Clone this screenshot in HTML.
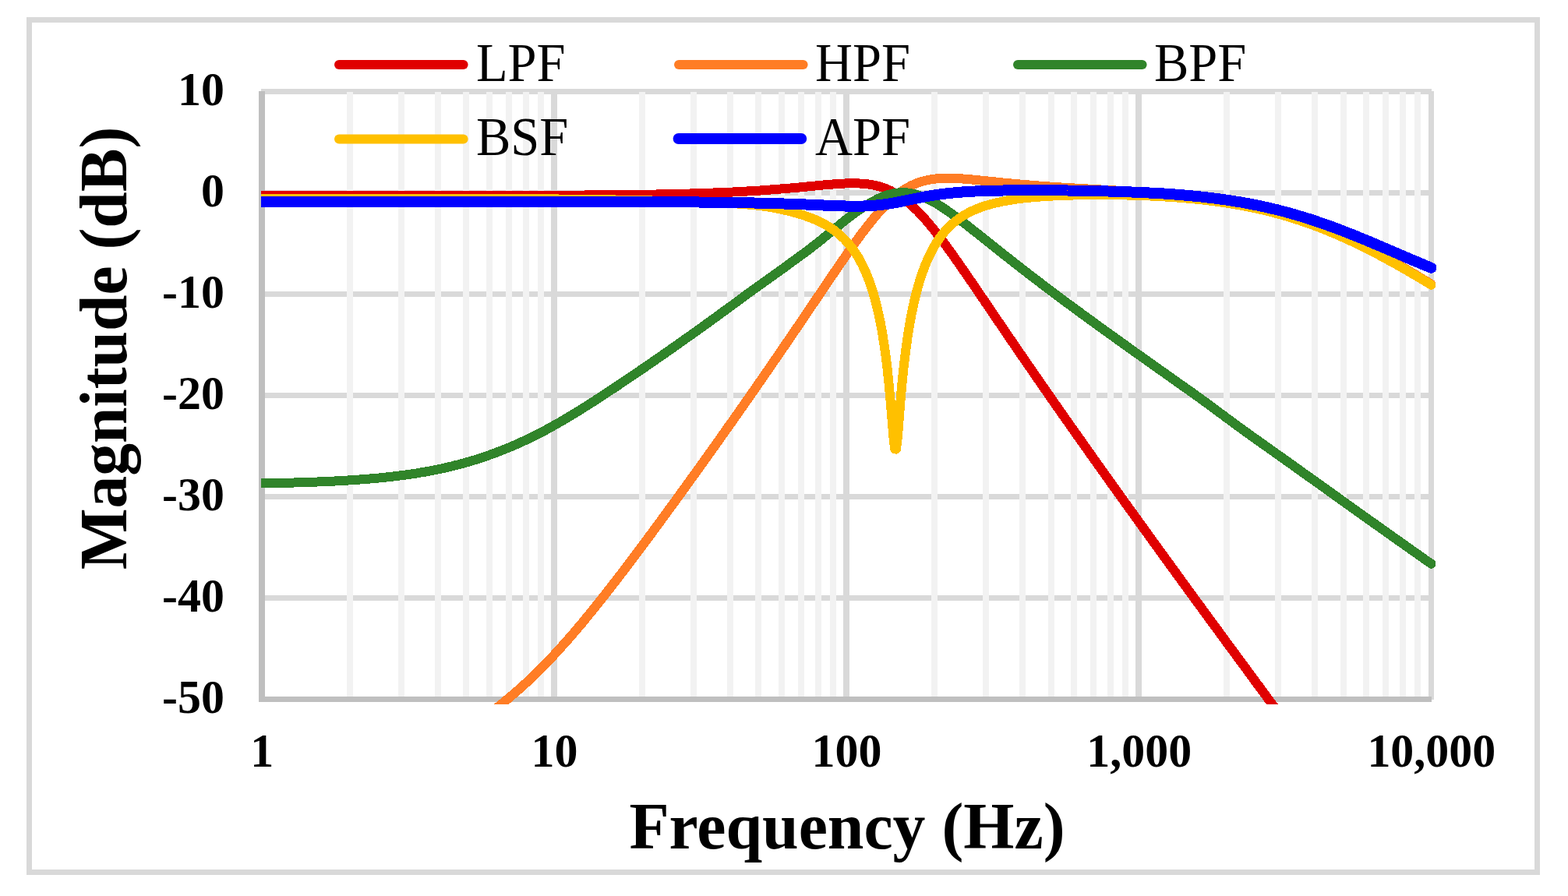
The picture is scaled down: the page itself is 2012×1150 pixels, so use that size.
<!DOCTYPE html>
<html lang="en"><head><meta charset="utf-8"><title>Filter magnitude response</title>
<style>
html,body{margin:0;padding:0;background:#fff;}
body{width:2012px;height:1150px;overflow:hidden;}
svg{display:block;}
text{font-family:"Liberation Serif",serif;fill:#000;}
.b{font-weight:bold;}
</style></head><body>
<svg width="2012" height="1150" viewBox="0 0 2012 1150">
<rect x="0" y="0" width="2012" height="1150" fill="#fff"/>
<rect x="37.5" y="25.5" width="1935" height="1094" fill="#fff" stroke="#D9D9D9" stroke-width="7" shape-rendering="crispEdges"/>
<g stroke="#D9D9D9" stroke-width="7" shape-rendering="crispEdges">
<line x1="335" y1="117.5" x2="1837" y2="117.5"/>
<line x1="335" y1="247.5" x2="1837" y2="247.5"/>
<line x1="335" y1="377.5" x2="1837" y2="377.5"/>
<line x1="335" y1="507.5" x2="1837" y2="507.5"/>
<line x1="335" y1="637.5" x2="1837" y2="637.5"/>
<line x1="335" y1="767.5" x2="1837" y2="767.5"/>
<line x1="711.1" y1="114" x2="711.1" y2="898" stroke-width="8"/>
<line x1="1086.2" y1="114" x2="1086.2" y2="898" stroke-width="8"/>
<line x1="1461.4" y1="114" x2="1461.4" y2="898" stroke-width="8"/>
<line x1="1836.5" y1="117" x2="1836.5" y2="898" stroke-width="7"/>
</g>
<g stroke="#F2F2F2" stroke-width="8" shape-rendering="crispEdges">
<line x1="448.9" y1="117.5" x2="448.9" y2="897.5"/>
<line x1="515.0" y1="117.5" x2="515.0" y2="897.5"/>
<line x1="561.8" y1="117.5" x2="561.8" y2="897.5"/>
<line x1="598.2" y1="117.5" x2="598.2" y2="897.5"/>
<line x1="627.9" y1="117.5" x2="627.9" y2="897.5"/>
<line x1="653.0" y1="117.5" x2="653.0" y2="897.5"/>
<line x1="674.8" y1="117.5" x2="674.8" y2="897.5"/>
<line x1="694.0" y1="117.5" x2="694.0" y2="897.5"/>
<line x1="824.0" y1="117.5" x2="824.0" y2="897.5"/>
<line x1="890.1" y1="117.5" x2="890.1" y2="897.5"/>
<line x1="937.0" y1="117.5" x2="937.0" y2="897.5"/>
<line x1="973.3" y1="117.5" x2="973.3" y2="897.5"/>
<line x1="1003.0" y1="117.5" x2="1003.0" y2="897.5"/>
<line x1="1028.1" y1="117.5" x2="1028.1" y2="897.5"/>
<line x1="1049.9" y1="117.5" x2="1049.9" y2="897.5"/>
<line x1="1069.1" y1="117.5" x2="1069.1" y2="897.5"/>
<line x1="1199.2" y1="117.5" x2="1199.2" y2="897.5"/>
<line x1="1265.2" y1="117.5" x2="1265.2" y2="897.5"/>
<line x1="1312.1" y1="117.5" x2="1312.1" y2="897.5"/>
<line x1="1348.5" y1="117.5" x2="1348.5" y2="897.5"/>
<line x1="1378.2" y1="117.5" x2="1378.2" y2="897.5"/>
<line x1="1403.3" y1="117.5" x2="1403.3" y2="897.5"/>
<line x1="1425.0" y1="117.5" x2="1425.0" y2="897.5"/>
<line x1="1444.2" y1="117.5" x2="1444.2" y2="897.5"/>
<line x1="1574.3" y1="117.5" x2="1574.3" y2="897.5"/>
<line x1="1640.4" y1="117.5" x2="1640.4" y2="897.5"/>
<line x1="1687.2" y1="117.5" x2="1687.2" y2="897.5"/>
<line x1="1723.6" y1="117.5" x2="1723.6" y2="897.5"/>
<line x1="1753.3" y1="117.5" x2="1753.3" y2="897.5"/>
<line x1="1778.4" y1="117.5" x2="1778.4" y2="897.5"/>
<line x1="1800.1" y1="117.5" x2="1800.1" y2="897.5"/>
<line x1="1819.3" y1="117.5" x2="1819.3" y2="897.5"/>
</g>
<g stroke="#BFBFBF" shape-rendering="crispEdges">
<line x1="336" y1="117" x2="336" y2="901" stroke-width="8"/>
<line x1="332" y1="897.5" x2="1837" y2="897.5" stroke-width="7"/>
</g>
<defs><clipPath id="c"><rect x="335" y="111" width="1520" height="793"/></clipPath></defs>
<g fill="none" stroke-linecap="round" stroke-linejoin="round" clip-path="url(#c)" shape-rendering="crispEdges">
<path stroke="#E00000" stroke-width="12" d="M336.0,251.0 L337.9,251.0 L339.8,251.0 L341.6,251.0 L343.5,251.0 L345.4,251.0 L347.3,251.0 L349.1,251.0 L351.0,251.0 L352.9,251.0 L354.8,251.0 L356.6,251.0 L358.5,251.0 L360.4,251.0 L362.3,251.0 L364.1,251.0 L366.0,251.0 L367.9,251.0 L369.8,251.0 L371.6,251.0 L373.5,251.0 L375.4,251.0 L377.3,251.0 L379.1,251.0 L381.0,251.0 L382.9,251.0 L384.8,251.0 L386.6,251.0 L388.5,251.0 L390.4,251.0 L392.3,251.0 L394.1,251.0 L396.0,251.0 L397.9,251.0 L399.8,251.0 L401.6,251.0 L403.5,251.0 L405.4,251.0 L407.3,251.0 L409.1,251.0 L411.0,251.0 L412.9,251.0 L414.8,251.0 L416.7,251.0 L418.5,251.0 L420.4,251.0 L422.3,251.0 L424.2,251.0 L426.0,251.0 L427.9,251.0 L429.8,251.0 L431.7,251.0 L433.5,251.0 L435.4,251.0 L437.3,251.0 L439.2,251.0 L441.0,251.0 L442.9,251.0 L444.8,251.0 L446.7,251.0 L448.5,251.0 L450.4,251.0 L452.3,251.0 L454.2,251.0 L456.0,251.0 L457.9,251.0 L459.8,251.0 L461.7,251.0 L463.5,251.0 L465.4,251.0 L467.3,251.0 L469.2,251.0 L471.0,251.0 L472.9,251.0 L474.8,251.0 L476.7,250.9 L478.5,250.9 L480.4,250.9 L482.3,250.9 L484.2,250.9 L486.1,250.9 L487.9,250.9 L489.8,250.9 L491.7,250.9 L493.6,250.9 L495.4,250.9 L497.3,250.9 L499.2,250.9 L501.1,250.9 L502.9,250.9 L504.8,250.9 L506.7,250.9 L508.6,250.9 L510.4,250.9 L512.3,250.9 L514.2,250.9 L516.1,250.9 L517.9,250.9 L519.8,250.9 L521.7,250.9 L523.6,250.9 L525.4,250.9 L527.3,250.9 L529.2,250.9 L531.1,250.9 L532.9,250.9 L534.8,250.9 L536.7,250.9 L538.6,250.9 L540.4,250.9 L542.3,250.9 L544.2,250.9 L546.1,250.9 L547.9,250.9 L549.8,250.9 L551.7,250.9 L553.6,250.9 L555.4,250.9 L557.3,250.9 L559.2,250.9 L561.1,250.9 L563.0,250.9 L564.8,250.9 L566.7,250.9 L568.6,250.9 L570.5,250.9 L572.3,250.9 L574.2,250.9 L576.1,250.9 L578.0,250.9 L579.8,250.9 L581.7,250.9 L583.6,250.9 L585.5,250.9 L587.3,250.9 L589.2,250.9 L591.1,250.9 L593.0,250.9 L594.8,250.9 L596.7,250.9 L598.6,250.9 L600.5,250.9 L602.3,250.9 L604.2,250.9 L606.1,250.9 L608.0,250.9 L609.8,250.9 L611.7,250.9 L613.6,250.9 L615.5,250.9 L617.3,250.9 L619.2,250.9 L621.1,250.9 L623.0,250.9 L624.8,250.9 L626.7,250.9 L628.6,250.9 L630.5,250.8 L632.3,250.8 L634.2,250.8 L636.1,250.8 L638.0,250.8 L639.9,250.8 L641.7,250.8 L643.6,250.8 L645.5,250.8 L647.4,250.8 L649.2,250.8 L651.1,250.8 L653.0,250.8 L654.9,250.8 L656.7,250.8 L658.6,250.8 L660.5,250.8 L662.4,250.8 L664.2,250.8 L666.1,250.8 L668.0,250.8 L669.9,250.8 L671.7,250.8 L673.6,250.8 L675.5,250.8 L677.4,250.8 L679.2,250.8 L681.1,250.7 L683.0,250.7 L684.9,250.7 L686.7,250.7 L688.6,250.7 L690.5,250.7 L692.4,250.7 L694.2,250.7 L696.1,250.7 L698.0,250.7 L699.9,250.7 L701.7,250.7 L703.6,250.7 L705.5,250.7 L707.4,250.7 L709.2,250.7 L711.1,250.6 L713.0,250.6 L714.9,250.6 L716.8,250.6 L718.6,250.6 L720.5,250.6 L722.4,250.6 L724.3,250.6 L726.1,250.6 L728.0,250.6 L729.9,250.6 L731.8,250.6 L733.6,250.5 L735.5,250.5 L737.4,250.5 L739.3,250.5 L741.1,250.5 L743.0,250.5 L744.9,250.5 L746.8,250.5 L748.6,250.5 L750.5,250.5 L752.4,250.4 L754.3,250.4 L756.1,250.4 L758.0,250.4 L759.9,250.4 L761.8,250.4 L763.6,250.4 L765.5,250.4 L767.4,250.3 L769.3,250.3 L771.1,250.3 L773.0,250.3 L774.9,250.3 L776.8,250.3 L778.6,250.3 L780.5,250.2 L782.4,250.2 L784.3,250.2 L786.1,250.2 L788.0,250.2 L789.9,250.1 L791.8,250.1 L793.7,250.1 L795.5,250.1 L797.4,250.1 L799.3,250.1 L801.2,250.0 L803.0,250.0 L804.9,250.0 L806.8,250.0 L808.7,249.9 L810.5,249.9 L812.4,249.9 L814.3,249.9 L816.2,249.9 L818.0,249.8 L819.9,249.8 L821.8,249.8 L823.7,249.7 L825.5,249.7 L827.4,249.7 L829.3,249.7 L831.2,249.6 L833.0,249.6 L834.9,249.6 L836.8,249.5 L838.7,249.5 L840.5,249.5 L842.4,249.5 L844.3,249.4 L846.2,249.4 L848.0,249.4 L849.9,249.3 L851.8,249.3 L853.7,249.2 L855.5,249.2 L857.4,249.2 L859.3,249.1 L861.2,249.1 L863.1,249.0 L864.9,249.0 L866.8,249.0 L868.7,248.9 L870.6,248.9 L872.4,248.8 L874.3,248.8 L876.2,248.7 L878.1,248.7 L879.9,248.6 L881.8,248.6 L883.7,248.5 L885.6,248.5 L887.4,248.4 L889.3,248.4 L891.2,248.3 L893.1,248.3 L894.9,248.2 L896.8,248.2 L898.7,248.1 L900.6,248.0 L902.4,248.0 L904.3,247.9 L906.2,247.9 L908.1,247.8 L909.9,247.7 L911.8,247.7 L913.7,247.6 L915.6,247.5 L917.4,247.4 L919.3,247.4 L921.2,247.3 L923.1,247.2 L924.9,247.1 L926.8,247.1 L928.7,247.0 L930.6,246.9 L932.4,246.8 L934.3,246.7 L936.2,246.7 L938.1,246.6 L940.0,246.5 L941.8,246.4 L943.7,246.3 L945.6,246.2 L947.5,246.1 L949.3,246.0 L951.2,245.9 L953.1,245.8 L955.0,245.7 L956.8,245.6 L958.7,245.5 L960.6,245.4 L962.5,245.3 L964.3,245.2 L966.2,245.1 L968.1,244.9 L970.0,244.8 L971.8,244.7 L973.7,244.6 L975.6,244.5 L977.5,244.3 L979.3,244.2 L981.2,244.1 L983.1,243.9 L985.0,243.8 L986.8,243.7 L988.7,243.5 L990.6,243.4 L992.5,243.3 L994.3,243.1 L996.2,243.0 L998.1,242.8 L1000.0,242.7 L1001.8,242.5 L1003.7,242.4 L1005.6,242.2 L1007.5,242.1 L1009.3,241.9 L1011.2,241.7 L1013.1,241.6 L1015.0,241.4 L1016.9,241.2 L1018.7,241.1 L1020.6,240.9 L1022.5,240.7 L1024.4,240.6 L1026.2,240.4 L1028.1,240.2 L1030.0,240.0 L1031.9,239.9 L1033.7,239.7 L1035.6,239.5 L1037.5,239.3 L1039.4,239.1 L1041.2,239.0 L1043.1,238.8 L1045.0,238.6 L1046.9,238.4 L1048.7,238.2 L1050.6,238.1 L1052.5,237.9 L1054.4,237.7 L1056.2,237.5 L1058.1,237.4 L1060.0,237.2 L1061.9,237.0 L1063.7,236.9 L1065.6,236.7 L1067.5,236.6 L1069.4,236.4 L1071.2,236.3 L1073.1,236.1 L1075.0,236.0 L1076.9,235.9 L1078.7,235.8 L1080.6,235.7 L1082.5,235.6 L1084.4,235.5 L1086.2,235.4 L1088.1,235.4 L1090.0,235.3 L1091.9,235.3 L1093.8,235.3 L1095.6,235.3 L1097.5,235.3 L1099.4,235.3 L1101.3,235.4 L1103.1,235.5 L1105.0,235.6 L1106.9,235.7 L1108.8,235.8 L1110.6,236.0 L1112.5,236.2 L1114.4,236.5 L1116.3,236.7 L1118.1,237.1 L1120.0,237.4 L1121.9,237.8 L1123.8,238.2 L1125.6,238.6 L1127.5,239.1 L1129.4,239.7 L1131.3,240.2 L1133.1,240.9 L1135.0,241.6 L1136.9,242.3 L1138.8,243.0 L1140.6,243.9 L1142.5,244.7 L1144.4,245.7 L1146.3,246.7 L1148.1,247.7 L1150.0,248.8 L1151.9,249.9 L1153.8,251.1 L1155.6,252.4 L1157.5,253.7 L1159.4,255.1 L1161.3,256.5 L1163.2,258.0 L1165.0,259.5 L1166.9,261.1 L1168.8,262.7 L1170.7,264.4 L1172.5,266.2 L1174.4,268.0 L1176.3,269.8 L1178.2,271.7 L1180.0,273.7 L1181.9,275.7 L1183.8,277.7 L1185.7,279.8 L1187.5,281.9 L1189.4,284.1 L1191.3,286.3 L1193.2,288.5 L1195.0,290.8 L1196.9,293.1 L1198.8,295.4 L1200.7,297.8 L1202.5,300.2 L1204.4,302.6 L1206.3,305.1 L1208.2,307.6 L1210.0,310.1 L1211.9,312.6 L1213.8,315.1 L1215.7,317.7 L1217.5,320.3 L1219.4,322.9 L1221.3,325.5 L1223.2,328.1 L1225.0,330.8 L1226.9,333.4 L1228.8,336.1 L1230.7,338.8 L1232.5,341.5 L1234.4,344.2 L1236.3,346.9 L1238.2,349.6 L1240.1,352.3 L1241.9,355.0 L1243.8,357.8 L1245.7,360.5 L1247.6,363.3 L1249.4,366.0 L1251.3,368.8 L1253.2,371.5 L1255.1,374.3 L1256.9,377.0 L1258.8,379.8 L1260.7,382.5 L1262.6,385.3 L1264.4,388.1 L1266.3,390.8 L1268.2,393.6 L1270.1,396.4 L1271.9,399.1 L1273.8,401.9 L1275.7,404.7 L1277.6,407.4 L1279.4,410.2 L1281.3,413.0 L1283.2,415.7 L1285.1,418.5 L1286.9,421.2 L1288.8,424.0 L1290.7,426.7 L1292.6,429.5 L1294.4,432.3 L1296.3,435.0 L1298.2,437.8 L1300.1,440.5 L1301.9,443.2 L1303.8,446.0 L1305.7,448.7 L1307.6,451.5 L1309.4,454.2 L1311.3,456.9 L1313.2,459.7 L1315.1,462.4 L1317.0,465.1 L1318.8,467.9 L1320.7,470.6 L1322.6,473.3 L1324.5,476.0 L1326.3,478.7 L1328.2,481.5 L1330.1,484.2 L1332.0,486.9 L1333.8,489.6 L1335.7,492.3 L1337.6,495.0 L1339.5,497.7 L1341.3,500.4 L1343.2,503.1 L1345.1,505.8 L1347.0,508.5 L1348.8,511.2 L1350.7,513.9 L1352.6,516.6 L1354.5,519.2 L1356.3,521.9 L1358.2,524.6 L1360.1,527.3 L1362.0,530.0 L1363.8,532.6 L1365.7,535.3 L1367.6,538.0 L1369.5,540.7 L1371.3,543.3 L1373.2,546.0 L1375.1,548.7 L1377.0,551.3 L1378.8,554.0 L1380.7,556.7 L1382.6,559.3 L1384.5,562.0 L1386.4,564.6 L1388.2,567.3 L1390.1,569.9 L1392.0,572.6 L1393.9,575.2 L1395.7,577.9 L1397.6,580.5 L1399.5,583.2 L1401.4,585.8 L1403.2,588.5 L1405.1,591.1 L1407.0,593.7 L1408.9,596.4 L1410.7,599.0 L1412.6,601.7 L1414.5,604.3 L1416.4,606.9 L1418.2,609.5 L1420.1,612.2 L1422.0,614.8 L1423.9,617.4 L1425.7,620.1 L1427.6,622.7 L1429.5,625.3 L1431.4,627.9 L1433.2,630.6 L1435.1,633.2 L1437.0,635.8 L1438.9,638.4 L1440.7,641.0 L1442.6,643.6 L1444.5,646.3 L1446.4,648.9 L1448.2,651.5 L1450.1,654.1 L1452.0,656.7 L1453.9,659.3 L1455.7,661.9 L1457.6,664.5 L1459.5,667.1 L1461.4,669.7 L1463.3,672.3 L1465.1,674.9 L1467.0,677.5 L1468.9,680.1 L1470.8,682.7 L1472.6,685.3 L1474.5,687.9 L1476.4,690.5 L1478.3,693.1 L1480.1,695.7 L1482.0,698.3 L1483.9,700.9 L1485.8,703.5 L1487.6,706.1 L1489.5,708.7 L1491.4,711.3 L1493.3,713.9 L1495.1,716.5 L1497.0,719.0 L1498.9,721.6 L1500.8,724.2 L1502.6,726.8 L1504.5,729.4 L1506.4,732.0 L1508.3,734.5 L1510.1,737.1 L1512.0,739.7 L1513.9,742.3 L1515.8,744.9 L1517.6,747.4 L1519.5,750.0 L1521.4,752.6 L1523.3,755.2 L1525.1,757.7 L1527.0,760.3 L1528.9,762.9 L1530.8,765.4 L1532.6,768.0 L1534.5,770.6 L1536.4,773.2 L1538.3,775.7 L1540.2,778.3 L1542.0,780.9 L1543.9,783.4 L1545.8,786.0 L1547.7,788.5 L1549.5,791.1 L1551.4,793.7 L1553.3,796.2 L1555.2,798.8 L1557.0,801.4 L1558.9,803.9 L1560.8,806.5 L1562.7,809.0 L1564.5,811.6 L1566.4,814.1 L1568.3,816.7 L1570.2,819.3 L1572.0,821.8 L1573.9,824.4 L1575.8,826.9 L1577.7,829.5 L1579.5,832.0 L1581.4,834.6 L1583.3,837.1 L1585.2,839.7 L1587.0,842.2 L1588.9,844.8 L1590.8,847.3 L1592.7,849.9 L1594.5,852.4 L1596.4,855.0 L1598.3,857.5 L1600.2,860.1 L1602.0,862.6 L1603.9,865.2 L1605.8,867.7 L1607.7,870.3 L1609.5,872.8 L1611.4,875.4 L1613.3,877.9 L1615.2,880.4 L1617.1,883.0 L1618.9,885.5 L1620.8,888.1 L1622.7,890.6 L1624.6,893.2 L1626.4,895.7 L1628.3,898.3 L1630.2,900.8 L1632.1,903.3 L1633.9,905.9 L1635.8,908.4 L1637.7,911.0 L1639.6,913.5 L1641.4,916.1 L1643.3,918.6 L1645.2,921.1 L1647.1,923.7 L1648.9,926.2 L1650.8,928.8 L1652.7,931.3 L1654.6,933.9 L1656.4,936.4 L1658.3,938.9 L1660.2,941.5 L1662.1,944.0 L1663.9,946.6 L1665.8,949.1 L1667.7,951.7 L1669.6,954.2 L1671.4,956.8 L1673.3,959.3 L1675.2,960.0 L1677.1,960.0 L1678.9,960.0 L1680.8,960.0 L1682.7,960.0 L1684.6,960.0 L1686.5,960.0 L1688.3,960.0 L1690.2,960.0 L1692.1,960.0 L1694.0,960.0 L1695.8,960.0 L1697.7,960.0 L1699.6,960.0 L1701.5,960.0 L1703.3,960.0 L1705.2,960.0 L1707.1,960.0 L1709.0,960.0 L1710.8,960.0 L1712.7,960.0 L1714.6,960.0 L1716.5,960.0 L1718.3,960.0 L1720.2,960.0 L1722.1,960.0 L1724.0,960.0 L1725.8,960.0 L1727.7,960.0 L1729.6,960.0 L1731.5,960.0 L1733.3,960.0 L1735.2,960.0 L1737.1,960.0 L1739.0,960.0 L1740.8,960.0 L1742.7,960.0 L1744.6,960.0 L1746.5,960.0 L1748.3,960.0 L1750.2,960.0 L1752.1,960.0 L1754.0,960.0 L1755.8,960.0 L1757.7,960.0 L1759.6,960.0 L1761.5,960.0 L1763.4,960.0 L1765.2,960.0 L1767.1,960.0 L1769.0,960.0 L1770.9,960.0 L1772.7,960.0 L1774.6,960.0 L1776.5,960.0 L1778.4,960.0 L1780.2,960.0 L1782.1,960.0 L1784.0,960.0 L1785.9,960.0 L1787.7,960.0 L1789.6,960.0 L1791.5,960.0 L1793.4,960.0 L1795.2,960.0 L1797.1,960.0 L1799.0,960.0 L1800.9,960.0 L1802.7,960.0 L1804.6,960.0 L1806.5,960.0 L1808.4,960.0 L1810.2,960.0 L1812.1,960.0 L1814.0,960.0 L1815.9,960.0 L1817.7,960.0 L1819.6,960.0 L1821.5,960.0 L1823.4,960.0 L1825.2,960.0 L1827.1,960.0 L1829.0,960.0 L1830.9,960.0 L1832.7,960.0 L1834.6,960.0 L1836.5,960.0"/>
<path stroke="#FF7D25" stroke-width="12" d="M336.0,960.0 L337.9,960.0 L339.8,960.0 L341.6,960.0 L343.5,960.0 L345.4,960.0 L347.3,960.0 L349.1,960.0 L351.0,960.0 L352.9,960.0 L354.8,960.0 L356.6,960.0 L358.5,960.0 L360.4,960.0 L362.3,960.0 L364.1,960.0 L366.0,960.0 L367.9,960.0 L369.8,960.0 L371.6,960.0 L373.5,960.0 L375.4,960.0 L377.3,960.0 L379.1,960.0 L381.0,960.0 L382.9,960.0 L384.8,960.0 L386.6,960.0 L388.5,960.0 L390.4,960.0 L392.3,960.0 L394.1,960.0 L396.0,960.0 L397.9,960.0 L399.8,960.0 L401.6,960.0 L403.5,960.0 L405.4,960.0 L407.3,960.0 L409.1,960.0 L411.0,960.0 L412.9,960.0 L414.8,960.0 L416.7,960.0 L418.5,960.0 L420.4,960.0 L422.3,960.0 L424.2,960.0 L426.0,960.0 L427.9,960.0 L429.8,960.0 L431.7,960.0 L433.5,960.0 L435.4,960.0 L437.3,960.0 L439.2,960.0 L441.0,960.0 L442.9,960.0 L444.8,960.0 L446.7,960.0 L448.5,960.0 L450.4,960.0 L452.3,960.0 L454.2,960.0 L456.0,960.0 L457.9,960.0 L459.8,960.0 L461.7,960.0 L463.5,960.0 L465.4,960.0 L467.3,960.0 L469.2,960.0 L471.0,960.0 L472.9,960.0 L474.8,960.0 L476.7,960.0 L478.5,960.0 L480.4,960.0 L482.3,960.0 L484.2,960.0 L486.1,960.0 L487.9,960.0 L489.8,960.0 L491.7,960.0 L493.6,960.0 L495.4,960.0 L497.3,960.0 L499.2,960.0 L501.1,960.0 L502.9,960.0 L504.8,960.0 L506.7,960.0 L508.6,960.0 L510.4,960.0 L512.3,960.0 L514.2,960.0 L516.1,960.0 L517.9,960.0 L519.8,960.0 L521.7,960.0 L523.6,960.0 L525.4,960.0 L527.3,960.0 L529.2,960.0 L531.1,960.0 L532.9,960.0 L534.8,960.0 L536.7,960.0 L538.6,960.0 L540.4,960.0 L542.3,960.0 L544.2,960.0 L546.1,960.0 L547.9,960.0 L549.8,960.0 L551.7,960.0 L553.6,960.0 L555.4,960.0 L557.3,960.0 L559.2,960.0 L561.1,960.0 L563.0,960.0 L564.8,958.8 L566.7,957.6 L568.6,956.4 L570.5,955.2 L572.3,954.0 L574.2,952.8 L576.1,951.6 L578.0,950.3 L579.8,949.1 L581.7,947.9 L583.6,946.7 L585.5,945.4 L587.3,944.2 L589.2,942.9 L591.1,941.7 L593.0,940.4 L594.8,939.2 L596.7,937.9 L598.6,936.6 L600.5,935.4 L602.3,934.1 L604.2,932.8 L606.1,931.5 L608.0,930.2 L609.8,928.8 L611.7,927.5 L613.6,926.2 L615.5,924.9 L617.3,923.5 L619.2,922.1 L621.1,920.8 L623.0,919.4 L624.8,918.0 L626.7,916.6 L628.6,915.2 L630.5,913.8 L632.3,912.4 L634.2,910.9 L636.1,909.5 L638.0,908.0 L639.9,906.6 L641.7,905.1 L643.6,903.6 L645.5,902.1 L647.4,900.5 L649.2,899.0 L651.1,897.5 L653.0,895.9 L654.9,894.3 L656.7,892.7 L658.6,891.1 L660.5,889.5 L662.4,887.9 L664.2,886.3 L666.1,884.6 L668.0,882.9 L669.9,881.2 L671.7,879.5 L673.6,877.8 L675.5,876.1 L677.4,874.3 L679.2,872.6 L681.1,870.8 L683.0,869.0 L684.9,867.2 L686.7,865.4 L688.6,863.6 L690.5,861.7 L692.4,859.8 L694.2,858.0 L696.1,856.1 L698.0,854.2 L699.9,852.2 L701.7,850.3 L703.6,848.3 L705.5,846.4 L707.4,844.4 L709.2,842.4 L711.1,840.4 L713.0,838.4 L714.9,836.3 L716.8,834.3 L718.6,832.2 L720.5,830.1 L722.4,828.0 L724.3,825.9 L726.1,823.8 L728.0,821.7 L729.9,819.6 L731.8,817.4 L733.6,815.2 L735.5,813.1 L737.4,810.9 L739.3,808.7 L741.1,806.5 L743.0,804.2 L744.9,802.0 L746.8,799.8 L748.6,797.5 L750.5,795.2 L752.4,793.0 L754.3,790.7 L756.1,788.4 L758.0,786.1 L759.9,783.8 L761.8,781.5 L763.6,779.1 L765.5,776.8 L767.4,774.5 L769.3,772.1 L771.1,769.7 L773.0,767.4 L774.9,765.0 L776.8,762.6 L778.6,760.2 L780.5,757.8 L782.4,755.4 L784.3,753.0 L786.1,750.6 L788.0,748.2 L789.9,745.7 L791.8,743.3 L793.7,740.9 L795.5,738.4 L797.4,736.0 L799.3,733.5 L801.2,731.1 L803.0,728.6 L804.9,726.1 L806.8,723.6 L808.7,721.2 L810.5,718.7 L812.4,716.2 L814.3,713.7 L816.2,711.2 L818.0,708.7 L819.9,706.2 L821.8,703.7 L823.7,701.2 L825.5,698.6 L827.4,696.1 L829.3,693.6 L831.2,691.1 L833.0,688.5 L834.9,686.0 L836.8,683.5 L838.7,680.9 L840.5,678.4 L842.4,675.8 L844.3,673.3 L846.2,670.7 L848.0,668.2 L849.9,665.6 L851.8,663.0 L853.7,660.5 L855.5,657.9 L857.4,655.3 L859.3,652.8 L861.2,650.2 L863.1,647.6 L864.9,645.0 L866.8,642.5 L868.7,639.9 L870.6,637.3 L872.4,634.7 L874.3,632.1 L876.2,629.5 L878.1,626.9 L879.9,624.3 L881.8,621.7 L883.7,619.1 L885.6,616.5 L887.4,613.9 L889.3,611.3 L891.2,608.7 L893.1,606.1 L894.9,603.5 L896.8,600.9 L898.7,598.2 L900.6,595.6 L902.4,593.0 L904.3,590.4 L906.2,587.8 L908.1,585.1 L909.9,582.5 L911.8,579.9 L913.7,577.2 L915.6,574.6 L917.4,572.0 L919.3,569.3 L921.2,566.7 L923.1,564.0 L924.9,561.4 L926.8,558.7 L928.7,556.1 L930.6,553.4 L932.4,550.8 L934.3,548.1 L936.2,545.5 L938.1,542.8 L940.0,540.2 L941.8,537.5 L943.7,534.8 L945.6,532.2 L947.5,529.5 L949.3,526.8 L951.2,524.1 L953.1,521.5 L955.0,518.8 L956.8,516.1 L958.7,513.4 L960.6,510.7 L962.5,508.1 L964.3,505.4 L966.2,502.7 L968.1,500.0 L970.0,497.3 L971.8,494.6 L973.7,491.9 L975.6,489.2 L977.5,486.5 L979.3,483.8 L981.2,481.1 L983.1,478.3 L985.0,475.6 L986.8,472.9 L988.7,470.2 L990.6,467.5 L992.5,464.7 L994.3,462.0 L996.2,459.3 L998.1,456.5 L1000.0,453.8 L1001.8,451.1 L1003.7,448.3 L1005.6,445.6 L1007.5,442.8 L1009.3,440.1 L1011.2,437.3 L1013.1,434.6 L1015.0,431.8 L1016.9,429.1 L1018.7,426.3 L1020.6,423.6 L1022.5,420.8 L1024.4,418.0 L1026.2,415.3 L1028.1,412.5 L1030.0,409.7 L1031.9,407.0 L1033.7,404.2 L1035.6,401.4 L1037.5,398.6 L1039.4,395.9 L1041.2,393.1 L1043.1,390.3 L1045.0,387.5 L1046.9,384.7 L1048.7,382.0 L1050.6,379.2 L1052.5,376.4 L1054.4,373.6 L1056.2,370.9 L1058.1,368.1 L1060.0,365.3 L1061.9,362.5 L1063.7,359.8 L1065.6,357.0 L1067.5,354.2 L1069.4,351.5 L1071.2,348.7 L1073.1,346.0 L1075.0,343.2 L1076.9,340.5 L1078.7,337.8 L1080.6,335.1 L1082.5,332.3 L1084.4,329.6 L1086.2,327.0 L1088.1,324.3 L1090.0,321.6 L1091.9,319.0 L1093.8,316.3 L1095.6,313.7 L1097.5,311.1 L1099.4,308.5 L1101.3,305.9 L1103.1,303.4 L1105.0,300.8 L1106.9,298.3 L1108.8,295.9 L1110.6,293.4 L1112.5,291.0 L1114.4,288.6 L1116.3,286.2 L1118.1,283.9 L1120.0,281.6 L1121.9,279.3 L1123.8,277.1 L1125.6,274.9 L1127.5,272.8 L1129.4,270.7 L1131.3,268.6 L1133.1,266.6 L1135.0,264.7 L1136.9,262.7 L1138.8,260.9 L1140.6,259.1 L1142.5,257.3 L1144.4,255.6 L1146.3,253.9 L1148.1,252.3 L1150.0,250.8 L1151.9,249.3 L1153.8,247.9 L1155.6,246.5 L1157.5,245.2 L1159.4,244.0 L1161.3,242.8 L1163.2,241.6 L1165.0,240.5 L1166.9,239.5 L1168.8,238.5 L1170.7,237.6 L1172.5,236.8 L1174.4,236.0 L1176.3,235.2 L1178.2,234.5 L1180.0,233.8 L1181.9,233.2 L1183.8,232.7 L1185.7,232.2 L1187.5,231.7 L1189.4,231.3 L1191.3,230.9 L1193.2,230.5 L1195.0,230.2 L1196.9,229.9 L1198.8,229.7 L1200.7,229.5 L1202.5,229.3 L1204.4,229.1 L1206.3,229.0 L1208.2,228.9 L1210.0,228.8 L1211.9,228.8 L1213.8,228.7 L1215.7,228.7 L1217.5,228.7 L1219.4,228.7 L1221.3,228.8 L1223.2,228.8 L1225.0,228.9 L1226.9,229.0 L1228.8,229.1 L1230.7,229.2 L1232.5,229.3 L1234.4,229.4 L1236.3,229.6 L1238.2,229.7 L1240.1,229.9 L1241.9,230.0 L1243.8,230.2 L1245.7,230.3 L1247.6,230.5 L1249.4,230.7 L1251.3,230.9 L1253.2,231.0 L1255.1,231.2 L1256.9,231.4 L1258.8,231.6 L1260.7,231.8 L1262.6,232.0 L1264.4,232.2 L1266.3,232.4 L1268.2,232.6 L1270.1,232.8 L1271.9,232.9 L1273.8,233.1 L1275.7,233.3 L1277.6,233.5 L1279.4,233.7 L1281.3,233.9 L1283.2,234.1 L1285.1,234.3 L1286.9,234.5 L1288.8,234.7 L1290.7,234.8 L1292.6,235.0 L1294.4,235.2 L1296.3,235.4 L1298.2,235.6 L1300.1,235.7 L1301.9,235.9 L1303.8,236.1 L1305.7,236.2 L1307.6,236.4 L1309.4,236.6 L1311.3,236.7 L1313.2,236.9 L1315.1,237.1 L1317.0,237.2 L1318.8,237.4 L1320.7,237.5 L1322.6,237.7 L1324.5,237.8 L1326.3,238.0 L1328.2,238.1 L1330.1,238.3 L1332.0,238.4 L1333.8,238.6 L1335.7,238.7 L1337.6,238.9 L1339.5,239.0 L1341.3,239.1 L1343.2,239.3 L1345.1,239.4 L1347.0,239.5 L1348.8,239.6 L1350.7,239.8 L1352.6,239.9 L1354.5,240.0 L1356.3,240.2 L1358.2,240.3 L1360.1,240.4 L1362.0,240.5 L1363.8,240.6 L1365.7,240.8 L1367.6,240.9 L1369.5,241.0 L1371.3,241.1 L1373.2,241.2 L1375.1,241.3 L1377.0,241.4 L1378.8,241.5 L1380.7,241.7 L1382.6,241.8 L1384.5,241.9 L1386.4,242.0 L1388.2,242.1 L1390.1,242.2 L1392.0,242.3 L1393.9,242.4 L1395.7,242.5 L1397.6,242.6 L1399.5,242.7 L1401.4,242.8 L1403.2,242.9 L1405.1,243.0 L1407.0,243.1 L1408.9,243.2 L1410.7,243.3 L1412.6,243.5 L1414.5,243.6 L1416.4,243.7 L1418.2,243.8 L1420.1,243.9 L1422.0,244.0 L1423.9,244.1 L1425.7,244.2 L1427.6,244.3 L1429.5,244.4 L1431.4,244.5 L1433.2,244.6 L1435.1,244.7 L1437.0,244.8 L1438.9,244.9 L1440.7,245.0 L1442.6,245.1 L1444.5,245.3 L1446.4,245.4 L1448.2,245.5 L1450.1,245.6 L1452.0,245.7 L1453.9,245.8 L1455.7,245.9 L1457.6,246.1 L1459.5,246.2 L1461.4,246.3 L1463.3,246.4 L1465.1,246.5 L1467.0,246.7 L1468.9,246.8 L1470.8,246.9 L1472.6,247.0 L1474.5,247.2 L1476.4,247.3 L1478.3,247.4 L1480.1,247.6 L1482.0,247.7 L1483.9,247.9 L1485.8,248.0 L1487.6,248.1 L1489.5,248.3 L1491.4,248.4 L1493.3,248.6 L1495.1,248.7 L1497.0,248.9 L1498.9,249.0 L1500.8,249.2 L1502.6,249.4 L1504.5,249.5 L1506.4,249.7 L1508.3,249.9 L1510.1,250.0 L1512.0,250.2 L1513.9,250.4 L1515.8,250.6 L1517.6,250.8 L1519.5,250.9 L1521.4,251.1 L1523.3,251.3 L1525.1,251.5 L1527.0,251.7 L1528.9,251.9 L1530.8,252.1 L1532.6,252.3 L1534.5,252.6 L1536.4,252.8 L1538.3,253.0 L1540.2,253.2 L1542.0,253.5 L1543.9,253.7 L1545.8,253.9 L1547.7,254.2 L1549.5,254.4 L1551.4,254.7 L1553.3,254.9 L1555.2,255.2 L1557.0,255.4 L1558.9,255.7 L1560.8,256.0 L1562.7,256.3 L1564.5,256.5 L1566.4,256.8 L1568.3,257.1 L1570.2,257.4 L1572.0,257.7 L1573.9,258.0 L1575.8,258.3 L1577.7,258.6 L1579.5,259.0 L1581.4,259.3 L1583.3,259.6 L1585.2,260.0 L1587.0,260.3 L1588.9,260.7 L1590.8,261.0 L1592.7,261.4 L1594.5,261.7 L1596.4,262.1 L1598.3,262.5 L1600.2,262.9 L1602.0,263.3 L1603.9,263.7 L1605.8,264.1 L1607.7,264.5 L1609.5,264.9 L1611.4,265.3 L1613.3,265.7 L1615.2,266.2 L1617.1,266.6 L1618.9,267.1 L1620.8,267.5 L1622.7,268.0 L1624.6,268.4 L1626.4,268.9 L1628.3,269.4 L1630.2,269.9 L1632.1,270.4 L1633.9,270.9 L1635.8,271.4 L1637.7,271.9 L1639.6,272.4 L1641.4,273.0 L1643.3,273.5 L1645.2,274.1 L1647.1,274.6 L1648.9,275.2 L1650.8,275.7 L1652.7,276.3 L1654.6,276.9 L1656.4,277.5 L1658.3,278.1 L1660.2,278.7 L1662.1,279.3 L1663.9,279.9 L1665.8,280.5 L1667.7,281.2 L1669.6,281.8 L1671.4,282.5 L1673.3,283.1 L1675.2,283.8 L1677.1,284.4 L1678.9,285.1 L1680.8,285.8 L1682.7,286.5 L1684.6,287.2 L1686.5,287.9 L1688.3,288.6 L1690.2,289.3 L1692.1,290.1 L1694.0,290.8 L1695.8,291.6 L1697.7,292.3 L1699.6,293.1 L1701.5,293.8 L1703.3,294.6 L1705.2,295.4 L1707.1,296.2 L1709.0,297.0 L1710.8,297.8 L1712.7,298.6 L1714.6,299.4 L1716.5,300.2 L1718.3,301.0 L1720.2,301.9 L1722.1,302.7 L1724.0,303.6 L1725.8,304.4 L1727.7,305.3 L1729.6,306.2 L1731.5,307.0 L1733.3,307.9 L1735.2,308.8 L1737.1,309.7 L1739.0,310.6 L1740.8,311.5 L1742.7,312.4 L1744.6,313.4 L1746.5,314.3 L1748.3,315.2 L1750.2,316.2 L1752.1,317.1 L1754.0,318.1 L1755.8,319.0 L1757.7,320.0 L1759.6,320.9 L1761.5,321.9 L1763.4,322.9 L1765.2,323.9 L1767.1,324.9 L1769.0,325.9 L1770.9,326.9 L1772.7,327.9 L1774.6,328.9 L1776.5,329.9 L1778.4,330.9 L1780.2,332.0 L1782.1,333.0 L1784.0,334.0 L1785.9,335.1 L1787.7,336.1 L1789.6,337.2 L1791.5,338.2 L1793.4,339.3 L1795.2,340.3 L1797.1,341.4 L1799.0,342.5 L1800.9,343.6 L1802.7,344.6 L1804.6,345.7 L1806.5,346.8 L1808.4,347.9 L1810.2,349.0 L1812.1,350.1 L1814.0,351.2 L1815.9,352.3 L1817.7,353.4 L1819.6,354.6 L1821.5,355.7 L1823.4,356.8 L1825.2,357.9 L1827.1,359.1 L1829.0,360.2 L1830.9,361.3 L1832.7,362.5 L1834.6,363.6 L1836.5,364.8"/>
<path stroke="#30842A" stroke-width="12" d="M336.0,620.4 L337.9,620.4 L339.8,620.3 L341.6,620.3 L343.5,620.3 L345.4,620.2 L347.3,620.2 L349.1,620.1 L351.0,620.1 L352.9,620.1 L354.8,620.0 L356.6,620.0 L358.5,620.0 L360.4,619.9 L362.3,619.9 L364.1,619.8 L366.0,619.8 L367.9,619.7 L369.8,619.7 L371.6,619.6 L373.5,619.6 L375.4,619.5 L377.3,619.5 L379.1,619.4 L381.0,619.4 L382.9,619.3 L384.8,619.3 L386.6,619.2 L388.5,619.2 L390.4,619.1 L392.3,619.0 L394.1,619.0 L396.0,618.9 L397.9,618.9 L399.8,618.8 L401.6,618.7 L403.5,618.6 L405.4,618.6 L407.3,618.5 L409.1,618.4 L411.0,618.4 L412.9,618.3 L414.8,618.2 L416.7,618.1 L418.5,618.0 L420.4,617.9 L422.3,617.9 L424.2,617.8 L426.0,617.7 L427.9,617.6 L429.8,617.5 L431.7,617.4 L433.5,617.3 L435.4,617.2 L437.3,617.1 L439.2,617.0 L441.0,616.9 L442.9,616.8 L444.8,616.7 L446.7,616.5 L448.5,616.4 L450.4,616.3 L452.3,616.2 L454.2,616.1 L456.0,615.9 L457.9,615.8 L459.8,615.7 L461.7,615.5 L463.5,615.4 L465.4,615.3 L467.3,615.1 L469.2,615.0 L471.0,614.8 L472.9,614.7 L474.8,614.5 L476.7,614.3 L478.5,614.2 L480.4,614.0 L482.3,613.8 L484.2,613.7 L486.1,613.5 L487.9,613.3 L489.8,613.1 L491.7,612.9 L493.6,612.7 L495.4,612.5 L497.3,612.3 L499.2,612.1 L501.1,611.9 L502.9,611.7 L504.8,611.5 L506.7,611.3 L508.6,611.0 L510.4,610.8 L512.3,610.6 L514.2,610.3 L516.1,610.1 L517.9,609.8 L519.8,609.6 L521.7,609.3 L523.6,609.1 L525.4,608.8 L527.3,608.5 L529.2,608.2 L531.1,607.9 L532.9,607.7 L534.8,607.4 L536.7,607.1 L538.6,606.7 L540.4,606.4 L542.3,606.1 L544.2,605.8 L546.1,605.5 L547.9,605.1 L549.8,604.8 L551.7,604.4 L553.6,604.1 L555.4,603.7 L557.3,603.3 L559.2,603.0 L561.1,602.6 L563.0,602.2 L564.8,601.8 L566.7,601.4 L568.6,601.0 L570.5,600.6 L572.3,600.1 L574.2,599.7 L576.1,599.3 L578.0,598.8 L579.8,598.4 L581.7,597.9 L583.6,597.4 L585.5,597.0 L587.3,596.5 L589.2,596.0 L591.1,595.5 L593.0,595.0 L594.8,594.5 L596.7,593.9 L598.6,593.4 L600.5,592.9 L602.3,592.3 L604.2,591.8 L606.1,591.2 L608.0,590.6 L609.8,590.1 L611.7,589.5 L613.6,588.9 L615.5,588.3 L617.3,587.7 L619.2,587.0 L621.1,586.4 L623.0,585.8 L624.8,585.1 L626.7,584.5 L628.6,583.8 L630.5,583.1 L632.3,582.4 L634.2,581.7 L636.1,581.0 L638.0,580.3 L639.9,579.6 L641.7,578.9 L643.6,578.2 L645.5,577.4 L647.4,576.7 L649.2,575.9 L651.1,575.1 L653.0,574.4 L654.9,573.6 L656.7,572.8 L658.6,572.0 L660.5,571.2 L662.4,570.4 L664.2,569.5 L666.1,568.7 L668.0,567.8 L669.9,567.0 L671.7,566.1 L673.6,565.3 L675.5,564.4 L677.4,563.5 L679.2,562.6 L681.1,561.7 L683.0,560.8 L684.9,559.8 L686.7,558.9 L688.6,558.0 L690.5,557.0 L692.4,556.0 L694.2,555.1 L696.1,554.1 L698.0,553.1 L699.9,552.1 L701.7,551.1 L703.6,550.1 L705.5,549.0 L707.4,548.0 L709.2,547.0 L711.1,545.9 L713.0,544.9 L714.9,543.8 L716.8,542.7 L718.6,541.7 L720.5,540.6 L722.4,539.5 L724.3,538.4 L726.1,537.3 L728.0,536.2 L729.9,535.0 L731.8,533.9 L733.6,532.8 L735.5,531.6 L737.4,530.5 L739.3,529.3 L741.1,528.2 L743.0,527.0 L744.9,525.9 L746.8,524.7 L748.6,523.5 L750.5,522.3 L752.4,521.2 L754.3,520.0 L756.1,518.8 L758.0,517.6 L759.9,516.4 L761.8,515.2 L763.6,514.0 L765.5,512.7 L767.4,511.5 L769.3,510.3 L771.1,509.1 L773.0,507.9 L774.9,506.6 L776.8,505.4 L778.6,504.2 L780.5,502.9 L782.4,501.7 L784.3,500.4 L786.1,499.2 L788.0,498.0 L789.9,496.7 L791.8,495.5 L793.7,494.2 L795.5,492.9 L797.4,491.7 L799.3,490.4 L801.2,489.2 L803.0,487.9 L804.9,486.7 L806.8,485.4 L808.7,484.1 L810.5,482.9 L812.4,481.6 L814.3,480.3 L816.2,479.1 L818.0,477.8 L819.9,476.5 L821.8,475.2 L823.7,473.9 L825.5,472.7 L827.4,471.4 L829.3,470.1 L831.2,468.8 L833.0,467.5 L834.9,466.2 L836.8,464.9 L838.7,463.6 L840.5,462.3 L842.4,461.0 L844.3,459.7 L846.2,458.4 L848.0,457.1 L849.9,455.8 L851.8,454.5 L853.7,453.2 L855.5,451.9 L857.4,450.6 L859.3,449.2 L861.2,447.9 L863.1,446.6 L864.9,445.3 L866.8,444.0 L868.7,442.7 L870.6,441.3 L872.4,440.0 L874.3,438.7 L876.2,437.4 L878.1,436.0 L879.9,434.7 L881.8,433.4 L883.7,432.0 L885.6,430.7 L887.4,429.4 L889.3,428.0 L891.2,426.7 L893.1,425.4 L894.9,424.0 L896.8,422.7 L898.7,421.3 L900.6,420.0 L902.4,418.6 L904.3,417.3 L906.2,415.9 L908.1,414.6 L909.9,413.2 L911.8,411.9 L913.7,410.5 L915.6,409.2 L917.4,407.8 L919.3,406.5 L921.2,405.1 L923.1,403.7 L924.9,402.4 L926.8,401.0 L928.7,399.6 L930.6,398.3 L932.4,396.9 L934.3,395.5 L936.2,394.2 L938.1,392.8 L940.0,391.4 L941.8,390.0 L943.7,388.7 L945.6,387.3 L947.5,385.9 L949.3,384.5 L951.2,383.1 L953.1,381.7 L955.0,380.3 L956.8,379.0 L958.7,377.6 L960.6,376.2 L962.5,374.8 L964.3,373.5 L966.2,372.1 L968.1,370.8 L970.0,369.4 L971.8,368.1 L973.7,366.7 L975.6,365.4 L977.5,364.1 L979.3,362.7 L981.2,361.4 L983.1,360.1 L985.0,358.7 L986.8,357.4 L988.7,356.1 L990.6,354.7 L992.5,353.4 L994.3,352.1 L996.2,350.7 L998.1,349.4 L1000.0,348.0 L1001.8,346.7 L1003.7,345.3 L1005.6,344.0 L1007.5,342.6 L1009.3,341.2 L1011.2,339.8 L1013.1,338.5 L1015.0,337.1 L1016.9,335.7 L1018.7,334.4 L1020.6,333.0 L1022.5,331.6 L1024.4,330.3 L1026.2,328.9 L1028.1,327.5 L1030.0,326.2 L1031.9,324.8 L1033.7,323.4 L1035.6,322.0 L1037.5,320.6 L1039.4,319.2 L1041.2,317.7 L1043.1,316.3 L1045.0,314.8 L1046.9,313.4 L1048.7,311.9 L1050.6,310.4 L1052.5,308.9 L1054.4,307.4 L1056.2,305.9 L1058.1,304.3 L1060.0,302.8 L1061.9,301.3 L1063.7,299.7 L1065.6,298.2 L1067.5,296.7 L1069.4,295.1 L1071.2,293.6 L1073.1,292.0 L1075.0,290.5 L1076.9,289.0 L1078.7,287.4 L1080.6,285.9 L1082.5,284.4 L1084.4,282.9 L1086.2,281.4 L1088.1,280.0 L1090.0,278.5 L1091.9,277.1 L1093.8,275.7 L1095.6,274.3 L1097.5,272.9 L1099.4,271.6 L1101.3,270.3 L1103.1,269.0 L1105.0,267.7 L1106.9,266.5 L1108.8,265.3 L1110.6,264.1 L1112.5,262.9 L1114.4,261.8 L1116.3,260.7 L1118.1,259.6 L1120.0,258.5 L1121.9,257.5 L1123.8,256.6 L1125.6,255.6 L1127.5,254.7 L1129.4,253.9 L1131.3,253.1 L1133.1,252.3 L1135.0,251.6 L1136.9,250.9 L1138.8,250.3 L1140.6,249.8 L1142.5,249.3 L1144.4,248.8 L1146.3,248.4 L1148.1,248.0 L1150.0,247.8 L1151.9,247.5 L1153.8,247.4 L1155.6,247.2 L1157.5,247.2 L1159.4,247.2 L1161.3,247.3 L1163.2,247.4 L1165.0,247.6 L1166.9,247.8 L1168.8,248.1 L1170.7,248.5 L1172.5,248.9 L1174.4,249.3 L1176.3,249.8 L1178.2,250.4 L1180.0,251.0 L1181.9,251.7 L1183.8,252.4 L1185.7,253.2 L1187.5,254.0 L1189.4,254.9 L1191.3,255.8 L1193.2,256.7 L1195.0,257.7 L1196.9,258.7 L1198.8,259.7 L1200.7,260.8 L1202.5,261.9 L1204.4,263.1 L1206.3,264.3 L1208.2,265.5 L1210.0,266.7 L1211.9,267.9 L1213.8,269.2 L1215.7,270.5 L1217.5,271.8 L1219.4,273.1 L1221.3,274.5 L1223.2,275.8 L1225.0,277.2 L1226.9,278.6 L1228.8,280.0 L1230.7,281.4 L1232.5,282.8 L1234.4,284.2 L1236.3,285.7 L1238.2,287.1 L1240.1,288.6 L1241.9,290.1 L1243.8,291.5 L1245.7,293.0 L1247.6,294.5 L1249.4,296.0 L1251.3,297.4 L1253.2,298.9 L1255.1,300.4 L1256.9,301.9 L1258.8,303.4 L1260.7,304.9 L1262.6,306.4 L1264.4,307.9 L1266.3,309.4 L1268.2,310.9 L1270.1,312.4 L1271.9,313.9 L1273.8,315.4 L1275.7,316.9 L1277.6,318.3 L1279.4,319.8 L1281.3,321.3 L1283.2,322.8 L1285.1,324.3 L1286.9,325.8 L1288.8,327.3 L1290.7,328.8 L1292.6,330.2 L1294.4,331.7 L1296.3,333.2 L1298.2,334.7 L1300.1,336.1 L1301.9,337.6 L1303.8,339.1 L1305.7,340.5 L1307.6,342.0 L1309.4,343.5 L1311.3,344.9 L1313.2,346.4 L1315.1,347.8 L1317.0,349.3 L1318.8,350.7 L1320.7,352.2 L1322.6,353.6 L1324.5,355.1 L1326.3,356.5 L1328.2,357.9 L1330.1,359.4 L1332.0,360.8 L1333.8,362.2 L1335.7,363.7 L1337.6,365.1 L1339.5,366.5 L1341.3,367.9 L1343.2,369.3 L1345.1,370.8 L1347.0,372.2 L1348.8,373.6 L1350.7,375.0 L1352.6,376.4 L1354.5,377.8 L1356.3,379.2 L1358.2,380.6 L1360.1,382.0 L1362.0,383.4 L1363.8,384.8 L1365.7,386.2 L1367.6,387.6 L1369.5,389.0 L1371.3,390.4 L1373.2,391.7 L1375.1,393.1 L1377.0,394.5 L1378.8,395.9 L1380.7,397.3 L1382.6,398.7 L1384.5,400.0 L1386.4,401.4 L1388.2,402.8 L1390.1,404.2 L1392.0,405.5 L1393.9,406.9 L1395.7,408.3 L1397.6,409.6 L1399.5,411.0 L1401.4,412.4 L1403.2,413.7 L1405.1,415.1 L1407.0,416.4 L1408.9,417.8 L1410.7,419.2 L1412.6,420.5 L1414.5,421.9 L1416.4,423.2 L1418.2,424.6 L1420.1,425.9 L1422.0,427.3 L1423.9,428.6 L1425.7,430.0 L1427.6,431.3 L1429.5,432.7 L1431.4,434.0 L1433.2,435.4 L1435.1,436.7 L1437.0,438.1 L1438.9,439.4 L1440.7,440.8 L1442.6,442.1 L1444.5,443.4 L1446.4,444.8 L1448.2,446.1 L1450.1,447.5 L1452.0,448.8 L1453.9,450.1 L1455.7,451.5 L1457.6,452.8 L1459.5,454.2 L1461.4,455.5 L1463.3,456.8 L1465.1,458.2 L1467.0,459.5 L1468.9,460.8 L1470.8,462.2 L1472.6,463.5 L1474.5,464.8 L1476.4,466.2 L1478.3,467.5 L1480.1,468.8 L1482.0,470.1 L1483.9,471.5 L1485.8,472.8 L1487.6,474.1 L1489.5,475.5 L1491.4,476.8 L1493.3,478.1 L1495.1,479.4 L1497.0,480.8 L1498.9,482.1 L1500.8,483.4 L1502.6,484.7 L1504.5,486.1 L1506.4,487.4 L1508.3,488.7 L1510.1,490.1 L1512.0,491.4 L1513.9,492.7 L1515.8,494.0 L1517.6,495.4 L1519.5,496.7 L1521.4,498.0 L1523.3,499.3 L1525.1,500.6 L1527.0,502.0 L1528.9,503.3 L1530.8,504.6 L1532.6,506.0 L1534.5,507.3 L1536.4,508.7 L1538.3,510.0 L1540.2,511.4 L1542.0,512.7 L1543.9,514.1 L1545.8,515.5 L1547.7,516.8 L1549.5,518.2 L1551.4,519.6 L1553.3,521.0 L1555.2,522.4 L1557.0,523.8 L1558.9,525.2 L1560.8,526.5 L1562.7,527.9 L1564.5,529.3 L1566.4,530.7 L1568.3,532.1 L1570.2,533.5 L1572.0,534.9 L1573.9,536.3 L1575.8,537.7 L1577.7,539.1 L1579.5,540.5 L1581.4,541.8 L1583.3,543.2 L1585.2,544.6 L1587.0,546.0 L1588.9,547.4 L1590.8,548.7 L1592.7,550.1 L1594.5,551.5 L1596.4,552.8 L1598.3,554.2 L1600.2,555.5 L1602.0,556.9 L1603.9,558.2 L1605.8,559.6 L1607.7,560.9 L1609.5,562.2 L1611.4,563.5 L1613.3,564.9 L1615.2,566.2 L1617.1,567.5 L1618.9,568.9 L1620.8,570.2 L1622.7,571.5 L1624.6,572.8 L1626.4,574.2 L1628.3,575.5 L1630.2,576.8 L1632.1,578.2 L1633.9,579.5 L1635.8,580.8 L1637.7,582.2 L1639.6,583.5 L1641.4,584.8 L1643.3,586.2 L1645.2,587.5 L1647.1,588.8 L1648.9,590.2 L1650.8,591.5 L1652.7,592.8 L1654.6,594.2 L1656.4,595.5 L1658.3,596.8 L1660.2,598.2 L1662.1,599.5 L1663.9,600.9 L1665.8,602.2 L1667.7,603.5 L1669.6,604.9 L1671.4,606.2 L1673.3,607.6 L1675.2,608.9 L1677.1,610.2 L1678.9,611.6 L1680.8,612.9 L1682.7,614.3 L1684.6,615.6 L1686.5,616.9 L1688.3,618.3 L1690.2,619.6 L1692.1,621.0 L1694.0,622.3 L1695.8,623.6 L1697.7,625.0 L1699.6,626.3 L1701.5,627.7 L1703.3,629.0 L1705.2,630.4 L1707.1,631.7 L1709.0,633.1 L1710.8,634.4 L1712.7,635.8 L1714.6,637.1 L1716.5,638.4 L1718.3,639.8 L1720.2,641.1 L1722.1,642.5 L1724.0,643.8 L1725.8,645.2 L1727.7,646.5 L1729.6,647.9 L1731.5,649.2 L1733.3,650.5 L1735.2,651.9 L1737.1,653.2 L1739.0,654.6 L1740.8,655.9 L1742.7,657.2 L1744.6,658.6 L1746.5,659.9 L1748.3,661.2 L1750.2,662.6 L1752.1,663.9 L1754.0,665.2 L1755.8,666.6 L1757.7,667.9 L1759.6,669.2 L1761.5,670.6 L1763.4,671.9 L1765.2,673.2 L1767.1,674.5 L1769.0,675.9 L1770.9,677.2 L1772.7,678.5 L1774.6,679.9 L1776.5,681.2 L1778.4,682.5 L1780.2,683.9 L1782.1,685.2 L1784.0,686.5 L1785.9,687.9 L1787.7,689.2 L1789.6,690.5 L1791.5,691.9 L1793.4,693.2 L1795.2,694.5 L1797.1,695.8 L1799.0,697.2 L1800.9,698.5 L1802.7,699.8 L1804.6,701.2 L1806.5,702.5 L1808.4,703.8 L1810.2,705.1 L1812.1,706.5 L1814.0,707.8 L1815.9,709.1 L1817.7,710.4 L1819.6,711.8 L1821.5,713.1 L1823.4,714.4 L1825.2,715.7 L1827.1,717.1 L1829.0,718.4 L1830.9,719.7 L1832.7,721.0 L1834.6,722.3 L1836.5,723.7"/>
<path stroke="#FFC000" stroke-width="12" d="M336.0,254.5 L337.9,254.5 L339.8,254.5 L341.6,254.5 L343.5,254.5 L345.4,254.5 L347.3,254.5 L349.1,254.5 L351.0,254.5 L352.9,254.5 L354.8,254.5 L356.6,254.5 L358.5,254.5 L360.4,254.5 L362.3,254.5 L364.1,254.5 L366.0,254.5 L367.9,254.6 L369.8,254.6 L371.6,254.6 L373.5,254.6 L375.4,254.6 L377.3,254.6 L379.1,254.6 L381.0,254.6 L382.9,254.6 L384.8,254.6 L386.6,254.6 L388.5,254.6 L390.4,254.6 L392.3,254.6 L394.1,254.6 L396.0,254.6 L397.9,254.6 L399.8,254.6 L401.6,254.6 L403.5,254.6 L405.4,254.6 L407.3,254.6 L409.1,254.6 L411.0,254.6 L412.9,254.6 L414.8,254.6 L416.7,254.6 L418.5,254.6 L420.4,254.6 L422.3,254.6 L424.2,254.6 L426.0,254.6 L427.9,254.6 L429.8,254.6 L431.7,254.6 L433.5,254.6 L435.4,254.6 L437.3,254.6 L439.2,254.6 L441.0,254.6 L442.9,254.6 L444.8,254.6 L446.7,254.6 L448.5,254.6 L450.4,254.6 L452.3,254.6 L454.2,254.6 L456.0,254.6 L457.9,254.6 L459.8,254.6 L461.7,254.6 L463.5,254.6 L465.4,254.6 L467.3,254.6 L469.2,254.6 L471.0,254.6 L472.9,254.6 L474.8,254.6 L476.7,254.6 L478.5,254.6 L480.4,254.6 L482.3,254.6 L484.2,254.6 L486.1,254.6 L487.9,254.6 L489.8,254.6 L491.7,254.6 L493.6,254.6 L495.4,254.6 L497.3,254.6 L499.2,254.6 L501.1,254.6 L502.9,254.6 L504.8,254.6 L506.7,254.6 L508.6,254.6 L510.4,254.6 L512.3,254.6 L514.2,254.6 L516.1,254.6 L517.9,254.6 L519.8,254.6 L521.7,254.6 L523.6,254.6 L525.4,254.6 L527.3,254.6 L529.2,254.6 L531.1,254.6 L532.9,254.6 L534.8,254.6 L536.7,254.7 L538.6,254.7 L540.4,254.7 L542.3,254.7 L544.2,254.7 L546.1,254.7 L547.9,254.7 L549.8,254.7 L551.7,254.7 L553.6,254.7 L555.4,254.7 L557.3,254.7 L559.2,254.7 L561.1,254.7 L563.0,254.7 L564.8,254.7 L566.7,254.7 L568.6,254.7 L570.5,254.7 L572.3,254.7 L574.2,254.7 L576.1,254.7 L578.0,254.7 L579.8,254.7 L581.7,254.7 L583.6,254.7 L585.5,254.7 L587.3,254.7 L589.2,254.8 L591.1,254.8 L593.0,254.8 L594.8,254.8 L596.7,254.8 L598.6,254.8 L600.5,254.8 L602.3,254.8 L604.2,254.8 L606.1,254.8 L608.0,254.8 L609.8,254.8 L611.7,254.8 L613.6,254.8 L615.5,254.8 L617.3,254.8 L619.2,254.8 L621.1,254.8 L623.0,254.9 L624.8,254.9 L626.7,254.9 L628.6,254.9 L630.5,254.9 L632.3,254.9 L634.2,254.9 L636.1,254.9 L638.0,254.9 L639.9,254.9 L641.7,254.9 L643.6,254.9 L645.5,255.0 L647.4,255.0 L649.2,255.0 L651.1,255.0 L653.0,255.0 L654.9,255.0 L656.7,255.0 L658.6,255.0 L660.5,255.0 L662.4,255.0 L664.2,255.1 L666.1,255.1 L668.0,255.1 L669.9,255.1 L671.7,255.1 L673.6,255.1 L675.5,255.1 L677.4,255.1 L679.2,255.1 L681.1,255.2 L683.0,255.2 L684.9,255.2 L686.7,255.2 L688.6,255.2 L690.5,255.2 L692.4,255.2 L694.2,255.3 L696.1,255.3 L698.0,255.3 L699.9,255.3 L701.7,255.3 L703.6,255.3 L705.5,255.3 L707.4,255.4 L709.2,255.4 L711.1,255.4 L713.0,255.4 L714.9,255.4 L716.8,255.5 L718.6,255.5 L720.5,255.5 L722.4,255.5 L724.3,255.5 L726.1,255.5 L728.0,255.6 L729.9,255.6 L731.8,255.6 L733.6,255.6 L735.5,255.7 L737.4,255.7 L739.3,255.7 L741.1,255.7 L743.0,255.7 L744.9,255.8 L746.8,255.8 L748.6,255.8 L750.5,255.8 L752.4,255.9 L754.3,255.9 L756.1,255.9 L758.0,255.9 L759.9,256.0 L761.8,256.0 L763.6,256.0 L765.5,256.0 L767.4,256.1 L769.3,256.1 L771.1,256.1 L773.0,256.2 L774.9,256.2 L776.8,256.2 L778.6,256.3 L780.5,256.3 L782.4,256.3 L784.3,256.4 L786.1,256.4 L788.0,256.4 L789.9,256.5 L791.8,256.5 L793.7,256.5 L795.5,256.6 L797.4,256.6 L799.3,256.6 L801.2,256.7 L803.0,256.7 L804.9,256.7 L806.8,256.8 L808.7,256.8 L810.5,256.9 L812.4,256.9 L814.3,256.9 L816.2,257.0 L818.0,257.0 L819.9,257.1 L821.8,257.1 L823.7,257.2 L825.5,257.2 L827.4,257.2 L829.3,257.3 L831.2,257.3 L833.0,257.4 L834.9,257.4 L836.8,257.5 L838.7,257.5 L840.5,257.6 L842.4,257.6 L844.3,257.7 L846.2,257.7 L848.0,257.8 L849.9,257.8 L851.8,257.9 L853.7,257.9 L855.5,258.0 L857.4,258.1 L859.3,258.1 L861.2,258.2 L863.1,258.2 L864.9,258.3 L866.8,258.4 L868.7,258.4 L870.6,258.5 L872.4,258.6 L874.3,258.6 L876.2,258.7 L878.1,258.8 L879.9,258.8 L881.8,258.9 L883.7,259.0 L885.6,259.0 L887.4,259.1 L889.3,259.2 L891.2,259.2 L893.1,259.3 L894.9,259.4 L896.8,259.4 L898.7,259.5 L900.6,259.5 L902.4,259.6 L904.3,259.7 L906.2,259.7 L908.1,259.8 L909.9,259.8 L911.8,259.9 L913.7,260.0 L915.6,260.0 L917.4,260.1 L919.3,260.2 L921.2,260.2 L923.1,260.3 L924.9,260.4 L926.8,260.5 L928.7,260.6 L930.6,260.6 L932.4,260.7 L934.3,260.8 L936.2,260.9 L938.1,261.0 L940.0,261.1 L941.8,261.2 L943.7,261.3 L945.6,261.4 L947.5,261.6 L949.3,261.7 L951.2,261.8 L953.1,262.0 L955.0,262.1 L956.8,262.2 L958.7,262.4 L960.6,262.6 L962.5,262.7 L964.3,262.9 L966.2,263.1 L968.1,263.3 L970.0,263.5 L971.8,263.7 L973.7,263.9 L975.6,264.1 L977.5,264.4 L979.3,264.6 L981.2,264.9 L983.1,265.2 L985.0,265.5 L986.8,265.8 L988.7,266.1 L990.6,266.4 L992.5,266.7 L994.3,267.1 L996.2,267.4 L998.1,267.8 L1000.0,268.2 L1001.8,268.5 L1003.7,269.0 L1005.6,269.4 L1007.5,269.8 L1009.3,270.2 L1011.2,270.7 L1013.1,271.2 L1015.0,271.6 L1016.9,272.1 L1018.7,272.6 L1020.6,273.2 L1022.5,273.7 L1024.4,274.2 L1026.2,274.8 L1028.1,275.4 L1030.0,276.0 L1031.9,276.6 L1033.7,277.3 L1035.6,277.9 L1037.5,278.6 L1039.4,279.3 L1041.2,280.0 L1043.1,280.8 L1045.0,281.5 L1046.9,282.3 L1048.7,283.2 L1050.6,284.0 L1052.5,284.9 L1054.4,285.9 L1056.2,286.8 L1058.1,287.8 L1060.0,288.9 L1061.9,290.0 L1063.7,291.1 L1065.6,292.4 L1067.5,293.6 L1069.4,294.9 L1071.2,296.3 L1073.1,297.7 L1075.0,299.2 L1076.9,300.8 L1078.7,302.5 L1080.6,304.2 L1082.5,306.0 L1084.4,307.9 L1086.2,309.9 L1088.1,312.0 L1090.0,314.3 L1091.9,316.6 L1093.8,319.1 L1095.6,321.7 L1097.5,324.4 L1099.4,327.3 L1101.3,330.4 L1103.1,333.7 L1105.0,337.1 L1106.9,340.8 L1108.8,344.7 L1110.6,348.9 L1112.5,353.4 L1114.4,358.1 L1116.3,363.2 L1118.1,368.7 L1120.0,374.6 L1121.9,380.9 L1123.8,387.8 L1125.6,395.3 L1127.5,403.5 L1129.4,412.5 L1131.3,422.4 L1133.1,433.4 L1135.0,445.6 L1136.9,459.4 L1138.8,475.1 L1140.6,493.0 L1142.5,513.4 L1144.4,536.2 L1146.3,559.4 L1148.1,576.2 L1150.0,576.6 L1151.9,559.9 L1153.8,536.3 L1155.6,512.9 L1157.5,491.7 L1159.4,473.1 L1161.3,456.8 L1163.2,442.4 L1165.0,429.5 L1166.9,417.9 L1168.8,407.5 L1170.7,398.0 L1172.5,389.3 L1174.4,381.3 L1176.3,374.0 L1178.2,367.1 L1180.0,360.8 L1181.9,354.9 L1183.8,349.5 L1185.7,344.3 L1187.5,339.5 L1189.4,335.0 L1191.3,330.8 L1193.2,326.8 L1195.0,323.1 L1196.9,319.6 L1198.8,316.3 L1200.7,313.1 L1202.5,310.2 L1204.4,307.4 L1206.3,304.7 L1208.2,302.2 L1210.0,299.8 L1211.9,297.6 L1213.8,295.4 L1215.7,293.4 L1217.5,291.5 L1219.4,289.7 L1221.3,287.9 L1223.2,286.3 L1225.0,284.7 L1226.9,283.2 L1228.8,281.8 L1230.7,280.4 L1232.5,279.1 L1234.4,277.9 L1236.3,276.7 L1238.2,275.6 L1240.1,274.5 L1241.9,273.5 L1243.8,272.5 L1245.7,271.5 L1247.6,270.7 L1249.4,269.8 L1251.3,269.0 L1253.2,268.2 L1255.1,267.4 L1256.9,266.7 L1258.8,266.0 L1260.7,265.4 L1262.6,264.7 L1264.4,264.1 L1266.3,263.6 L1268.2,263.0 L1270.1,262.5 L1271.9,261.9 L1273.8,261.4 L1275.7,261.0 L1277.6,260.5 L1279.4,260.1 L1281.3,259.7 L1283.2,259.3 L1285.1,258.9 L1286.9,258.5 L1288.8,258.1 L1290.7,257.8 L1292.6,257.4 L1294.4,257.1 L1296.3,256.8 L1298.2,256.5 L1300.1,256.2 L1301.9,256.0 L1303.8,255.7 L1305.7,255.4 L1307.6,255.2 L1309.4,255.0 L1311.3,254.7 L1313.2,254.5 L1315.1,254.3 L1317.0,254.1 L1318.8,253.9 L1320.7,253.7 L1322.6,253.5 L1324.5,253.3 L1326.3,253.2 L1328.2,253.0 L1330.1,252.9 L1332.0,252.7 L1333.8,252.6 L1335.7,252.4 L1337.6,252.3 L1339.5,252.2 L1341.3,252.0 L1343.2,251.9 L1345.1,251.8 L1347.0,251.7 L1348.8,251.6 L1350.7,251.5 L1352.6,251.4 L1354.5,251.3 L1356.3,251.2 L1358.2,251.1 L1360.1,251.0 L1362.0,251.0 L1363.8,250.9 L1365.7,250.8 L1367.6,250.8 L1369.5,250.7 L1371.3,250.6 L1373.2,250.6 L1375.1,250.5 L1377.0,250.5 L1378.8,250.4 L1380.7,250.4 L1382.6,250.3 L1384.5,250.3 L1386.4,250.3 L1388.2,250.2 L1390.1,250.2 L1392.0,250.2 L1393.9,250.1 L1395.7,250.1 L1397.6,250.1 L1399.5,250.1 L1401.4,250.1 L1403.2,250.1 L1405.1,250.1 L1407.0,250.0 L1408.9,250.0 L1410.7,250.0 L1412.6,250.0 L1414.5,250.0 L1416.4,250.0 L1418.2,250.1 L1420.1,250.1 L1422.0,250.1 L1423.9,250.1 L1425.7,250.1 L1427.6,250.1 L1429.5,250.2 L1431.4,250.2 L1433.2,250.2 L1435.1,250.2 L1437.0,250.3 L1438.9,250.3 L1440.7,250.3 L1442.6,250.4 L1444.5,250.4 L1446.4,250.5 L1448.2,250.5 L1450.1,250.5 L1452.0,250.6 L1453.9,250.6 L1455.7,250.7 L1457.6,250.8 L1459.5,250.8 L1461.4,250.9 L1463.3,250.9 L1465.1,251.0 L1467.0,251.1 L1468.9,251.2 L1470.8,251.2 L1472.6,251.3 L1474.5,251.4 L1476.4,251.5 L1478.3,251.6 L1480.1,251.7 L1482.0,251.7 L1483.9,251.8 L1485.8,251.9 L1487.6,252.0 L1489.5,252.1 L1491.4,252.2 L1493.3,252.4 L1495.1,252.5 L1497.0,252.6 L1498.9,252.7 L1500.8,252.8 L1502.6,253.0 L1504.5,253.1 L1506.4,253.2 L1508.3,253.3 L1510.1,253.5 L1512.0,253.6 L1513.9,253.8 L1515.8,253.9 L1517.6,254.1 L1519.5,254.2 L1521.4,254.4 L1523.3,254.6 L1525.1,254.7 L1527.0,254.9 L1528.9,255.1 L1530.8,255.2 L1532.6,255.4 L1534.5,255.6 L1536.4,255.8 L1538.3,256.0 L1540.2,256.2 L1542.0,256.4 L1543.9,256.6 L1545.8,256.8 L1547.7,257.0 L1549.5,257.3 L1551.4,257.5 L1553.3,257.7 L1555.2,258.0 L1557.0,258.2 L1558.9,258.4 L1560.8,258.7 L1562.7,258.9 L1564.5,259.2 L1566.4,259.5 L1568.3,259.7 L1570.2,260.0 L1572.0,260.3 L1573.9,260.6 L1575.8,260.9 L1577.7,261.2 L1579.5,261.5 L1581.4,261.8 L1583.3,262.1 L1585.2,262.4 L1587.0,262.7 L1588.9,263.1 L1590.8,263.4 L1592.7,263.7 L1594.5,264.1 L1596.4,264.5 L1598.3,264.8 L1600.2,265.2 L1602.0,265.6 L1603.9,265.9 L1605.8,266.3 L1607.7,266.7 L1609.5,267.1 L1611.4,267.5 L1613.3,267.9 L1615.2,268.3 L1617.1,268.8 L1618.9,269.2 L1620.8,269.6 L1622.7,270.1 L1624.6,270.5 L1626.4,271.0 L1628.3,271.5 L1630.2,271.9 L1632.1,272.4 L1633.9,272.9 L1635.8,273.4 L1637.7,273.9 L1639.6,274.4 L1641.4,274.9 L1643.3,275.4 L1645.2,276.0 L1647.1,276.5 L1648.9,277.1 L1650.8,277.6 L1652.7,278.2 L1654.6,278.7 L1656.4,279.3 L1658.3,279.9 L1660.2,280.5 L1662.1,281.1 L1663.9,281.7 L1665.8,282.3 L1667.7,282.9 L1669.6,283.5 L1671.4,284.2 L1673.3,284.8 L1675.2,285.5 L1677.1,286.1 L1678.9,286.8 L1680.8,287.5 L1682.7,288.1 L1684.6,288.8 L1686.5,289.5 L1688.3,290.2 L1690.2,290.9 L1692.1,291.6 L1694.0,292.4 L1695.8,293.1 L1697.7,293.8 L1699.6,294.6 L1701.5,295.3 L1703.3,296.1 L1705.2,296.9 L1707.1,297.7 L1709.0,298.4 L1710.8,299.2 L1712.7,300.0 L1714.6,300.8 L1716.5,301.6 L1718.3,302.5 L1720.2,303.3 L1722.1,304.1 L1724.0,305.0 L1725.8,305.8 L1727.7,306.7 L1729.6,307.5 L1731.5,308.4 L1733.3,309.2 L1735.2,310.1 L1737.1,311.0 L1739.0,311.9 L1740.8,312.8 L1742.7,313.7 L1744.6,314.6 L1746.5,315.5 L1748.3,316.5 L1750.2,317.4 L1752.1,318.3 L1754.0,319.3 L1755.8,320.2 L1757.7,321.2 L1759.6,322.1 L1761.5,323.1 L1763.4,324.1 L1765.2,325.0 L1767.1,326.0 L1769.0,327.0 L1770.9,328.0 L1772.7,329.0 L1774.6,330.0 L1776.5,331.0 L1778.4,332.0 L1780.2,333.1 L1782.1,334.1 L1784.0,335.1 L1785.9,336.1 L1787.7,337.2 L1789.6,338.2 L1791.5,339.3 L1793.4,340.3 L1795.2,341.4 L1797.1,342.5 L1799.0,343.5 L1800.9,344.6 L1802.7,345.7 L1804.6,346.7 L1806.5,347.8 L1808.4,348.9 L1810.2,350.0 L1812.1,351.1 L1814.0,352.2 L1815.9,353.3 L1817.7,354.4 L1819.6,355.5 L1821.5,356.6 L1823.4,357.8 L1825.2,358.9 L1827.1,360.0 L1829.0,361.1 L1830.9,362.3 L1832.7,363.4 L1834.6,364.6 L1836.5,365.7"/>
<path stroke="#0000FF" stroke-width="14" d="M336.0,259.0 L337.9,259.0 L339.8,259.0 L341.6,259.0 L343.5,259.0 L345.4,259.0 L347.3,259.0 L349.1,259.0 L351.0,259.0 L352.9,259.0 L354.8,259.0 L356.6,259.0 L358.5,259.0 L360.4,259.0 L362.3,259.0 L364.1,259.0 L366.0,259.0 L367.9,259.0 L369.8,259.0 L371.6,259.0 L373.5,259.0 L375.4,259.0 L377.3,259.0 L379.1,259.0 L381.0,259.0 L382.9,259.0 L384.8,259.0 L386.6,259.0 L388.5,259.0 L390.4,259.0 L392.3,259.0 L394.1,259.0 L396.0,259.0 L397.9,259.0 L399.8,259.0 L401.6,259.0 L403.5,259.0 L405.4,259.0 L407.3,259.0 L409.1,259.0 L411.0,259.0 L412.9,259.0 L414.8,259.0 L416.7,259.0 L418.5,259.0 L420.4,259.0 L422.3,259.0 L424.2,259.0 L426.0,259.0 L427.9,259.0 L429.8,259.0 L431.7,259.0 L433.5,259.0 L435.4,259.0 L437.3,259.0 L439.2,259.0 L441.0,259.0 L442.9,259.0 L444.8,259.0 L446.7,259.0 L448.5,259.0 L450.4,259.0 L452.3,259.0 L454.2,259.0 L456.0,259.0 L457.9,259.0 L459.8,259.0 L461.7,259.0 L463.5,259.0 L465.4,259.0 L467.3,259.0 L469.2,259.0 L471.0,259.0 L472.9,259.0 L474.8,259.0 L476.7,259.0 L478.5,259.0 L480.4,259.0 L482.3,259.0 L484.2,259.0 L486.1,259.0 L487.9,259.0 L489.8,259.0 L491.7,259.0 L493.6,259.0 L495.4,259.0 L497.3,259.0 L499.2,259.0 L501.1,259.0 L502.9,259.0 L504.8,259.0 L506.7,259.0 L508.6,259.0 L510.4,259.0 L512.3,259.0 L514.2,259.0 L516.1,259.0 L517.9,259.0 L519.8,259.0 L521.7,259.0 L523.6,259.0 L525.4,259.0 L527.3,259.0 L529.2,259.0 L531.1,259.0 L532.9,259.0 L534.8,259.0 L536.7,259.0 L538.6,259.0 L540.4,259.0 L542.3,259.0 L544.2,259.0 L546.1,259.0 L547.9,259.0 L549.8,259.0 L551.7,259.0 L553.6,259.0 L555.4,259.0 L557.3,259.0 L559.2,259.0 L561.1,259.0 L563.0,259.0 L564.8,259.0 L566.7,259.0 L568.6,259.0 L570.5,259.0 L572.3,259.0 L574.2,259.0 L576.1,259.0 L578.0,259.0 L579.8,259.0 L581.7,259.0 L583.6,259.0 L585.5,259.0 L587.3,259.0 L589.2,259.0 L591.1,259.0 L593.0,259.0 L594.8,259.0 L596.7,259.0 L598.6,259.0 L600.5,259.0 L602.3,259.0 L604.2,259.0 L606.1,259.0 L608.0,259.0 L609.8,259.0 L611.7,259.0 L613.6,259.0 L615.5,259.0 L617.3,259.0 L619.2,259.0 L621.1,259.0 L623.0,259.0 L624.8,259.0 L626.7,259.0 L628.6,259.0 L630.5,259.0 L632.3,259.0 L634.2,259.0 L636.1,259.0 L638.0,259.0 L639.9,259.0 L641.7,259.0 L643.6,259.0 L645.5,259.0 L647.4,259.0 L649.2,259.0 L651.1,259.0 L653.0,259.0 L654.9,259.0 L656.7,259.0 L658.6,259.0 L660.5,259.0 L662.4,259.0 L664.2,259.0 L666.1,259.0 L668.0,259.0 L669.9,259.0 L671.7,259.0 L673.6,259.0 L675.5,259.0 L677.4,259.0 L679.2,259.0 L681.1,259.0 L683.0,259.0 L684.9,259.0 L686.7,259.0 L688.6,259.0 L690.5,259.0 L692.4,259.0 L694.2,259.0 L696.1,259.0 L698.0,259.0 L699.9,259.0 L701.7,259.0 L703.6,259.0 L705.5,259.0 L707.4,259.0 L709.2,259.0 L711.1,259.0 L713.0,259.0 L714.9,259.0 L716.8,259.0 L718.6,259.0 L720.5,259.0 L722.4,259.0 L724.3,259.0 L726.1,259.0 L728.0,259.0 L729.9,259.0 L731.8,259.0 L733.6,259.0 L735.5,259.0 L737.4,259.0 L739.3,259.0 L741.1,259.0 L743.0,259.0 L744.9,259.0 L746.8,259.0 L748.6,259.0 L750.5,259.0 L752.4,259.0 L754.3,259.0 L756.1,259.0 L758.0,259.0 L759.9,259.0 L761.8,259.0 L763.6,259.0 L765.5,259.0 L767.4,259.0 L769.3,259.0 L771.1,259.0 L773.0,259.0 L774.9,259.0 L776.8,259.0 L778.6,259.0 L780.5,259.0 L782.4,259.0 L784.3,259.0 L786.1,259.0 L788.0,259.0 L789.9,259.0 L791.8,259.0 L793.7,259.0 L795.5,259.1 L797.4,259.1 L799.3,259.1 L801.2,259.1 L803.0,259.1 L804.9,259.1 L806.8,259.1 L808.7,259.1 L810.5,259.1 L812.4,259.1 L814.3,259.1 L816.2,259.1 L818.0,259.1 L819.9,259.1 L821.8,259.1 L823.7,259.1 L825.5,259.1 L827.4,259.1 L829.3,259.1 L831.2,259.1 L833.0,259.1 L834.9,259.1 L836.8,259.1 L838.7,259.1 L840.5,259.2 L842.4,259.2 L844.3,259.2 L846.2,259.2 L848.0,259.2 L849.9,259.2 L851.8,259.2 L853.7,259.2 L855.5,259.2 L857.4,259.2 L859.3,259.2 L861.2,259.2 L863.1,259.2 L864.9,259.3 L866.8,259.3 L868.7,259.3 L870.6,259.3 L872.4,259.3 L874.3,259.3 L876.2,259.3 L878.1,259.3 L879.9,259.3 L881.8,259.4 L883.7,259.4 L885.6,259.4 L887.4,259.4 L889.3,259.4 L891.2,259.4 L893.1,259.4 L894.9,259.4 L896.8,259.5 L898.7,259.5 L900.6,259.5 L902.4,259.5 L904.3,259.5 L906.2,259.5 L908.1,259.6 L909.9,259.6 L911.8,259.6 L913.7,259.6 L915.6,259.6 L917.4,259.7 L919.3,259.7 L921.2,259.7 L923.1,259.7 L924.9,259.7 L926.8,259.8 L928.7,259.8 L930.6,259.8 L932.4,259.8 L934.3,259.9 L936.2,259.9 L938.1,259.9 L940.0,259.9 L941.8,260.0 L943.7,260.0 L945.6,260.0 L947.5,260.1 L949.3,260.1 L951.2,260.1 L953.1,260.2 L955.0,260.2 L956.8,260.2 L958.7,260.3 L960.6,260.3 L962.5,260.3 L964.3,260.4 L966.2,260.4 L968.1,260.5 L970.0,260.5 L971.8,260.5 L973.7,260.6 L975.6,260.6 L977.5,260.7 L979.3,260.7 L981.2,260.8 L983.1,260.8 L985.0,260.9 L986.8,260.9 L988.7,261.0 L990.6,261.0 L992.5,261.1 L994.3,261.1 L996.2,261.2 L998.1,261.2 L1000.0,261.3 L1001.8,261.3 L1003.7,261.4 L1005.6,261.5 L1007.5,261.5 L1009.3,261.6 L1011.2,261.6 L1013.1,261.7 L1015.0,261.8 L1016.9,261.8 L1018.7,261.9 L1020.6,262.0 L1022.5,262.0 L1024.4,262.1 L1026.2,262.2 L1028.1,262.3 L1030.0,262.3 L1031.9,262.4 L1033.7,262.5 L1035.6,262.6 L1037.5,262.6 L1039.4,262.7 L1041.2,262.8 L1043.1,262.9 L1045.0,263.0 L1046.9,263.0 L1048.7,263.1 L1050.6,263.2 L1052.5,263.3 L1054.4,263.4 L1056.2,263.5 L1058.1,263.5 L1060.0,263.6 L1061.9,263.7 L1063.7,263.8 L1065.6,263.8 L1067.5,263.9 L1069.4,264.0 L1071.2,264.1 L1073.1,264.1 L1075.0,264.2 L1076.9,264.3 L1078.7,264.3 L1080.6,264.4 L1082.5,264.4 L1084.4,264.5 L1086.2,264.5 L1088.1,264.6 L1090.0,264.6 L1091.9,264.6 L1093.8,264.6 L1095.6,264.7 L1097.5,264.7 L1099.4,264.7 L1101.3,264.6 L1103.1,264.6 L1105.0,264.6 L1106.9,264.5 L1108.8,264.5 L1110.6,264.4 L1112.5,264.3 L1114.4,264.3 L1116.3,264.2 L1118.1,264.0 L1120.0,263.9 L1121.9,263.8 L1123.8,263.6 L1125.6,263.4 L1127.5,263.2 L1129.4,263.0 L1131.3,262.8 L1133.1,262.6 L1135.0,262.3 L1136.9,262.1 L1138.8,261.8 L1140.6,261.5 L1142.5,261.2 L1144.4,260.9 L1146.3,260.5 L1148.1,260.2 L1150.0,259.9 L1151.9,259.5 L1153.8,259.1 L1155.6,258.8 L1157.5,258.4 L1159.4,258.0 L1161.3,257.6 L1163.2,257.2 L1165.0,256.8 L1166.9,256.4 L1168.8,256.1 L1170.7,255.7 L1172.5,255.3 L1174.4,254.9 L1176.3,254.5 L1178.2,254.1 L1180.0,253.8 L1181.9,253.4 L1183.8,253.0 L1185.7,252.7 L1187.5,252.3 L1189.4,252.0 L1191.3,251.7 L1193.2,251.4 L1195.0,251.1 L1196.9,250.7 L1198.8,250.5 L1200.7,250.2 L1202.5,249.9 L1204.4,249.6 L1206.3,249.4 L1208.2,249.1 L1210.0,248.9 L1211.9,248.7 L1213.8,248.4 L1215.7,248.2 L1217.5,248.0 L1219.4,247.8 L1221.3,247.6 L1223.2,247.5 L1225.0,247.3 L1226.9,247.1 L1228.8,247.0 L1230.7,246.8 L1232.5,246.7 L1234.4,246.5 L1236.3,246.4 L1238.2,246.3 L1240.1,246.1 L1241.9,246.0 L1243.8,245.9 L1245.7,245.8 L1247.6,245.7 L1249.4,245.6 L1251.3,245.5 L1253.2,245.4 L1255.1,245.4 L1256.9,245.3 L1258.8,245.2 L1260.7,245.1 L1262.6,245.1 L1264.4,245.0 L1266.3,245.0 L1268.2,244.9 L1270.1,244.8 L1271.9,244.8 L1273.8,244.7 L1275.7,244.7 L1277.6,244.7 L1279.4,244.6 L1281.3,244.6 L1283.2,244.5 L1285.1,244.5 L1286.9,244.5 L1288.8,244.4 L1290.7,244.4 L1292.6,244.4 L1294.4,244.4 L1296.3,244.4 L1298.2,244.3 L1300.1,244.3 L1301.9,244.3 L1303.8,244.3 L1305.7,244.3 L1307.6,244.3 L1309.4,244.2 L1311.3,244.2 L1313.2,244.2 L1315.1,244.2 L1317.0,244.2 L1318.8,244.2 L1320.7,244.2 L1322.6,244.2 L1324.5,244.2 L1326.3,244.2 L1328.2,244.2 L1330.1,244.2 L1332.0,244.2 L1333.8,244.2 L1335.7,244.2 L1337.6,244.2 L1339.5,244.2 L1341.3,244.2 L1343.2,244.3 L1345.1,244.3 L1347.0,244.3 L1348.8,244.3 L1350.7,244.3 L1352.6,244.3 L1354.5,244.3 L1356.3,244.3 L1358.2,244.4 L1360.1,244.4 L1362.0,244.4 L1363.8,244.4 L1365.7,244.4 L1367.6,244.4 L1369.5,244.5 L1371.3,244.5 L1373.2,244.5 L1375.1,244.5 L1377.0,244.6 L1378.8,244.6 L1380.7,244.6 L1382.6,244.6 L1384.5,244.7 L1386.4,244.7 L1388.2,244.7 L1390.1,244.8 L1392.0,244.8 L1393.9,244.8 L1395.7,244.9 L1397.6,244.9 L1399.5,244.9 L1401.4,245.0 L1403.2,245.0 L1405.1,245.1 L1407.0,245.1 L1408.9,245.1 L1410.7,245.2 L1412.6,245.2 L1414.5,245.3 L1416.4,245.3 L1418.2,245.4 L1420.1,245.4 L1422.0,245.5 L1423.9,245.5 L1425.7,245.6 L1427.6,245.6 L1429.5,245.7 L1431.4,245.7 L1433.2,245.8 L1435.1,245.9 L1437.0,245.9 L1438.9,246.0 L1440.7,246.0 L1442.6,246.1 L1444.5,246.2 L1446.4,246.2 L1448.2,246.3 L1450.1,246.4 L1452.0,246.5 L1453.9,246.5 L1455.7,246.6 L1457.6,246.7 L1459.5,246.8 L1461.4,246.8 L1463.3,246.9 L1465.1,247.0 L1467.0,247.1 L1468.9,247.2 L1470.8,247.3 L1472.6,247.4 L1474.5,247.5 L1476.4,247.6 L1478.3,247.7 L1480.1,247.8 L1482.0,247.9 L1483.9,248.0 L1485.8,248.1 L1487.6,248.2 L1489.5,248.3 L1491.4,248.4 L1493.3,248.5 L1495.1,248.7 L1497.0,248.8 L1498.9,248.9 L1500.8,249.0 L1502.6,249.2 L1504.5,249.3 L1506.4,249.4 L1508.3,249.6 L1510.1,249.7 L1512.0,249.9 L1513.9,250.0 L1515.8,250.2 L1517.6,250.3 L1519.5,250.5 L1521.4,250.6 L1523.3,250.8 L1525.1,251.0 L1527.0,251.1 L1528.9,251.3 L1530.8,251.5 L1532.6,251.7 L1534.5,251.9 L1536.4,252.0 L1538.3,252.2 L1540.2,252.4 L1542.0,252.6 L1543.9,252.8 L1545.8,253.0 L1547.7,253.2 L1549.5,253.5 L1551.4,253.7 L1553.3,253.9 L1555.2,254.1 L1557.0,254.4 L1558.9,254.6 L1560.8,254.8 L1562.7,255.1 L1564.5,255.3 L1566.4,255.6 L1568.3,255.8 L1570.2,256.1 L1572.0,256.4 L1573.9,256.6 L1575.8,256.9 L1577.7,257.2 L1579.5,257.5 L1581.4,257.8 L1583.3,258.1 L1585.2,258.4 L1587.0,258.7 L1588.9,259.0 L1590.8,259.3 L1592.7,259.6 L1594.5,260.0 L1596.4,260.3 L1598.3,260.6 L1600.2,261.0 L1602.0,261.3 L1603.9,261.7 L1605.8,262.0 L1607.7,262.4 L1609.5,262.8 L1611.4,263.1 L1613.3,263.5 L1615.2,263.9 L1617.1,264.3 L1618.9,264.7 L1620.8,265.1 L1622.7,265.5 L1624.6,265.9 L1626.4,266.4 L1628.3,266.8 L1630.2,267.2 L1632.1,267.7 L1633.9,268.1 L1635.8,268.6 L1637.7,269.0 L1639.6,269.5 L1641.4,270.0 L1643.3,270.5 L1645.2,270.9 L1647.1,271.4 L1648.9,271.9 L1650.8,272.4 L1652.7,272.9 L1654.6,273.5 L1656.4,274.0 L1658.3,274.5 L1660.2,275.1 L1662.1,275.6 L1663.9,276.1 L1665.8,276.7 L1667.7,277.3 L1669.6,277.8 L1671.4,278.4 L1673.3,279.0 L1675.2,279.5 L1677.1,280.1 L1678.9,280.7 L1680.8,281.3 L1682.7,281.9 L1684.6,282.6 L1686.5,283.2 L1688.3,283.8 L1690.2,284.4 L1692.1,285.1 L1694.0,285.7 L1695.8,286.4 L1697.7,287.0 L1699.6,287.7 L1701.5,288.3 L1703.3,289.0 L1705.2,289.7 L1707.1,290.4 L1709.0,291.0 L1710.8,291.7 L1712.7,292.4 L1714.6,293.1 L1716.5,293.8 L1718.3,294.5 L1720.2,295.2 L1722.1,296.0 L1724.0,296.7 L1725.8,297.4 L1727.7,298.1 L1729.6,298.9 L1731.5,299.6 L1733.3,300.4 L1735.2,301.1 L1737.1,301.9 L1739.0,302.6 L1740.8,303.4 L1742.7,304.1 L1744.6,304.9 L1746.5,305.7 L1748.3,306.4 L1750.2,307.2 L1752.1,308.0 L1754.0,308.8 L1755.8,309.5 L1757.7,310.3 L1759.6,311.1 L1761.5,311.9 L1763.4,312.7 L1765.2,313.5 L1767.1,314.3 L1769.0,315.1 L1770.9,315.9 L1772.7,316.7 L1774.6,317.5 L1776.5,318.3 L1778.4,319.1 L1780.2,319.9 L1782.1,320.7 L1784.0,321.5 L1785.9,322.3 L1787.7,323.1 L1789.6,323.9 L1791.5,324.7 L1793.4,325.5 L1795.2,326.3 L1797.1,327.1 L1799.0,327.9 L1800.9,328.7 L1802.7,329.5 L1804.6,330.3 L1806.5,331.2 L1808.4,332.0 L1810.2,332.8 L1812.1,333.6 L1814.0,334.4 L1815.9,335.2 L1817.7,335.9 L1819.6,336.7 L1821.5,337.5 L1823.4,338.3 L1825.2,339.1 L1827.1,339.9 L1829.0,340.7 L1830.9,341.5 L1832.7,342.2 L1834.6,343.0 L1836.5,343.8"/>
</g>
<g fill="none" stroke-linecap="round">
<line x1="435.00" y1="83" x2="594.60" y2="83" stroke="#E00000" stroke-width="12"/>
<line x1="871.00" y1="83" x2="1030.60" y2="83" stroke="#FF7D25" stroke-width="12"/>
<line x1="1306.00" y1="83" x2="1465.60" y2="83" stroke="#30842A" stroke-width="12"/>
<line x1="435.00" y1="178.5" x2="594.60" y2="178.5" stroke="#FFC000" stroke-width="12"/>
<line x1="870.60" y1="178" x2="1028.20" y2="178" stroke="#0000FF" stroke-width="14"/>
</g>
<text font-size="69.7" transform="translate(611.00 103.60) scale(0.954 1)">LPF</text>
<text font-size="69.7" transform="translate(1046.00 103.60) scale(0.954 1)">HPF</text>
<text font-size="69.7" transform="translate(1481.00 103.60) scale(0.954 1)">BPF</text>
<text font-size="69.7" transform="translate(611.00 198.60) scale(0.954 1)">BSF</text>
<text font-size="69.7" transform="translate(1046.00 198.60) scale(0.954 1)">APF</text>
<text class="b" font-size="62" text-anchor="end" transform="translate(288.00 134.70) scale(0.967 1)">10</text>
<text class="b" font-size="62" text-anchor="end" transform="translate(288.00 264.70) scale(0.967 1)">0</text>
<text class="b" font-size="62" text-anchor="end" transform="translate(288.00 394.70) scale(0.967 1)">-10</text>
<text class="b" font-size="62" text-anchor="end" transform="translate(288.00 524.70) scale(0.967 1)">-20</text>
<text class="b" font-size="62" text-anchor="end" transform="translate(288.00 654.70) scale(0.967 1)">-30</text>
<text class="b" font-size="62" text-anchor="end" transform="translate(288.00 784.70) scale(0.967 1)">-40</text>
<text class="b" font-size="62" text-anchor="end" transform="translate(288.00 914.70) scale(0.967 1)">-50</text>
<text class="b" font-size="62" text-anchor="middle" transform="translate(336.30 984.00) scale(0.967 1)">1</text>
<text class="b" font-size="62" text-anchor="middle" transform="translate(711.42 984.00) scale(0.967 1)">10</text>
<text class="b" font-size="62" text-anchor="middle" transform="translate(1086.55 984.00) scale(0.967 1)">100</text>
<text class="b" font-size="62" text-anchor="middle" transform="translate(1461.67 984.00) scale(0.967 1)">1,000</text>
<text class="b" font-size="62" text-anchor="middle" transform="translate(1836.80 984.00) scale(0.967 1)">10,000</text>
<text class="b" font-size="84.3" text-anchor="middle" transform="translate(1087.00 1089.00) scale(0.994 1)">Frequency (Hz)</text>
<text class="b" font-size="85.7" text-anchor="middle" transform="translate(162.00 447.00) rotate(-90) scale(0.975 1)">Magnitude (dB)</text>
</svg></body></html>
